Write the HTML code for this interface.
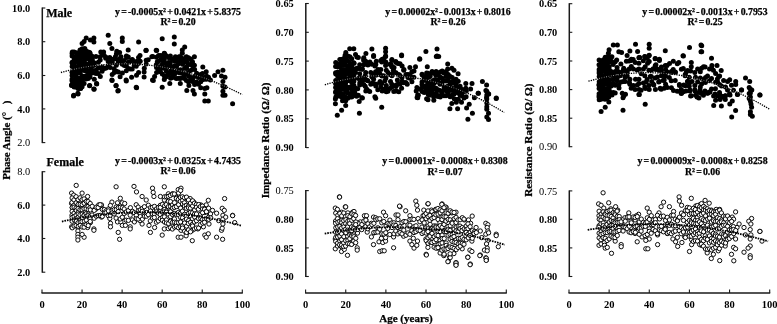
<!DOCTYPE html>
<html><head><meta charset="utf-8"><style>
html,body{margin:0;padding:0;background:#fff;width:777px;height:324px;overflow:hidden}
svg{display:block}
text{font-family:"Liberation Serif","Noto Serif CJK SC",serif;stroke:#000;stroke-width:0.25px}
</style></head><body>
<svg width="777" height="324" viewBox="0 0 777 324" font-family="Liberation Serif, serif" fill="#000"><line x1="42.3" y1="7.5" x2="42.3" y2="143.1" stroke="#1a1a1a" stroke-width="1.5"/>
<line x1="42.3" y1="8.0" x2="45.3" y2="8.0" stroke="#1a1a1a" stroke-width="1.1"/>
<text x="30.299999999999997" y="11.6" text-anchor="end" font-size="10.4" font-weight="bold" style="stroke:none">10.0</text>
<line x1="42.3" y1="41.7" x2="45.3" y2="41.7" stroke="#1a1a1a" stroke-width="1.1"/>
<text x="30.299999999999997" y="45.300000000000004" text-anchor="end" font-size="10.4" font-weight="bold" style="stroke:none">8.0</text>
<line x1="42.3" y1="75.5" x2="45.3" y2="75.5" stroke="#1a1a1a" stroke-width="1.1"/>
<text x="30.299999999999997" y="79.1" text-anchor="end" font-size="10.4" font-weight="bold" style="stroke:none">6.0</text>
<line x1="42.3" y1="108.9" x2="45.3" y2="108.9" stroke="#1a1a1a" stroke-width="1.1"/>
<text x="30.299999999999997" y="112.5" text-anchor="end" font-size="10.4" font-weight="bold" style="stroke:none">4.0</text>
<line x1="42.3" y1="142.6" x2="45.3" y2="142.6" stroke="#1a1a1a" stroke-width="1.1"/>
<text x="30.299999999999997" y="146.2" text-anchor="end" font-size="10.4" font-weight="normal" style="stroke:none">2.0</text>
<line x1="42.3" y1="171.2" x2="42.3" y2="272.7" stroke="#1a1a1a" stroke-width="1.5"/>
<line x1="42.3" y1="171.7" x2="45.3" y2="171.7" stroke="#1a1a1a" stroke-width="1.1"/>
<text x="30.299999999999997" y="175.29999999999998" text-anchor="end" font-size="10.4" font-weight="normal" style="stroke:none">8.0</text>
<line x1="42.3" y1="205.1" x2="45.3" y2="205.1" stroke="#1a1a1a" stroke-width="1.1"/>
<text x="30.299999999999997" y="208.7" text-anchor="end" font-size="10.4" font-weight="bold" style="stroke:none">6.0</text>
<line x1="42.3" y1="238.5" x2="45.3" y2="238.5" stroke="#1a1a1a" stroke-width="1.1"/>
<text x="30.299999999999997" y="242.1" text-anchor="end" font-size="10.4" font-weight="bold" style="stroke:none">4.0</text>
<line x1="42.3" y1="272.2" x2="45.3" y2="272.2" stroke="#1a1a1a" stroke-width="1.1"/>
<text x="30.299999999999997" y="275.8" text-anchor="end" font-size="10.4" font-weight="bold" style="stroke:none">2.0</text>
<line x1="305.8" y1="3.0" x2="305.8" y2="148.1" stroke="#1a1a1a" stroke-width="1.5"/>
<line x1="305.8" y1="3.5" x2="308.8" y2="3.5" stroke="#1a1a1a" stroke-width="1.1"/>
<text x="293.8" y="7.1" text-anchor="end" font-size="10.4" font-weight="bold" style="stroke:none">0.65</text>
<line x1="305.8" y1="32.3" x2="308.8" y2="32.3" stroke="#1a1a1a" stroke-width="1.1"/>
<text x="293.8" y="35.9" text-anchor="end" font-size="10.4" font-weight="bold" style="stroke:none">0.70</text>
<line x1="305.8" y1="61.1" x2="308.8" y2="61.1" stroke="#1a1a1a" stroke-width="1.1"/>
<text x="293.8" y="64.7" text-anchor="end" font-size="10.4" font-weight="bold" style="stroke:none">0.75</text>
<line x1="305.8" y1="89.9" x2="308.8" y2="89.9" stroke="#1a1a1a" stroke-width="1.1"/>
<text x="293.8" y="93.5" text-anchor="end" font-size="10.4" font-weight="bold" style="stroke:none">0.80</text>
<line x1="305.8" y1="118.8" x2="308.8" y2="118.8" stroke="#1a1a1a" stroke-width="1.1"/>
<text x="293.8" y="122.39999999999999" text-anchor="end" font-size="10.4" font-weight="bold" style="stroke:none">0.85</text>
<line x1="305.8" y1="147.6" x2="308.8" y2="147.6" stroke="#1a1a1a" stroke-width="1.1"/>
<text x="293.8" y="151.2" text-anchor="end" font-size="10.4" font-weight="bold" style="stroke:none">0.90</text>
<line x1="305.8" y1="190.1" x2="305.8" y2="277.0" stroke="#1a1a1a" stroke-width="1.5"/>
<line x1="305.8" y1="190.6" x2="308.8" y2="190.6" stroke="#1a1a1a" stroke-width="1.1"/>
<text x="293.8" y="194.2" text-anchor="end" font-size="10.4" font-weight="normal" style="stroke:none">0.75</text>
<line x1="305.8" y1="219.3" x2="308.8" y2="219.3" stroke="#1a1a1a" stroke-width="1.1"/>
<text x="293.8" y="222.9" text-anchor="end" font-size="10.4" font-weight="bold" style="stroke:none">0.80</text>
<line x1="305.8" y1="247.9" x2="308.8" y2="247.9" stroke="#1a1a1a" stroke-width="1.1"/>
<text x="293.8" y="251.5" text-anchor="end" font-size="10.4" font-weight="bold" style="stroke:none">0.85</text>
<line x1="305.8" y1="276.5" x2="308.8" y2="276.5" stroke="#1a1a1a" stroke-width="1.1"/>
<text x="293.8" y="280.1" text-anchor="end" font-size="10.4" font-weight="bold" style="stroke:none">0.90</text>
<line x1="569.3" y1="3.2" x2="569.3" y2="147.2" stroke="#1a1a1a" stroke-width="1.5"/>
<line x1="569.3" y1="3.7" x2="572.3" y2="3.7" stroke="#1a1a1a" stroke-width="1.1"/>
<text x="557.3" y="7.300000000000001" text-anchor="end" font-size="10.4" font-weight="bold" style="stroke:none">0.65</text>
<line x1="569.3" y1="32.3" x2="572.3" y2="32.3" stroke="#1a1a1a" stroke-width="1.1"/>
<text x="557.3" y="35.9" text-anchor="end" font-size="10.4" font-weight="bold" style="stroke:none">0.70</text>
<line x1="569.3" y1="61.0" x2="572.3" y2="61.0" stroke="#1a1a1a" stroke-width="1.1"/>
<text x="557.3" y="64.6" text-anchor="end" font-size="10.4" font-weight="bold" style="stroke:none">0.75</text>
<line x1="569.3" y1="89.6" x2="572.3" y2="89.6" stroke="#1a1a1a" stroke-width="1.1"/>
<text x="557.3" y="93.19999999999999" text-anchor="end" font-size="10.4" font-weight="bold" style="stroke:none">0.80</text>
<line x1="569.3" y1="118.2" x2="572.3" y2="118.2" stroke="#1a1a1a" stroke-width="1.1"/>
<text x="557.3" y="121.8" text-anchor="end" font-size="10.4" font-weight="bold" style="stroke:none">0.85</text>
<line x1="569.3" y1="146.7" x2="572.3" y2="146.7" stroke="#1a1a1a" stroke-width="1.1"/>
<text x="557.3" y="150.29999999999998" text-anchor="end" font-size="10.4" font-weight="normal" style="stroke:none">0.90</text>
<line x1="569.3" y1="190.4" x2="569.3" y2="277.0" stroke="#1a1a1a" stroke-width="1.5"/>
<line x1="569.3" y1="190.9" x2="572.3" y2="190.9" stroke="#1a1a1a" stroke-width="1.1"/>
<text x="557.3" y="194.5" text-anchor="end" font-size="10.4" font-weight="normal" style="stroke:none">0.75</text>
<line x1="569.3" y1="219.3" x2="572.3" y2="219.3" stroke="#1a1a1a" stroke-width="1.1"/>
<text x="557.3" y="222.9" text-anchor="end" font-size="10.4" font-weight="bold" style="stroke:none">0.80</text>
<line x1="569.3" y1="247.9" x2="572.3" y2="247.9" stroke="#1a1a1a" stroke-width="1.1"/>
<text x="557.3" y="251.5" text-anchor="end" font-size="10.4" font-weight="bold" style="stroke:none">0.85</text>
<line x1="569.3" y1="276.5" x2="572.3" y2="276.5" stroke="#1a1a1a" stroke-width="1.1"/>
<text x="557.3" y="280.1" text-anchor="end" font-size="10.4" font-weight="bold" style="stroke:none">0.90</text>
<line x1="41.5" y1="292.9" x2="242.8" y2="292.9" stroke="#1a1a1a" stroke-width="1.5"/>
<line x1="42.0" y1="292.9" x2="42.0" y2="289.4" stroke="#1a1a1a" stroke-width="1.1"/>
<text x="42.0" y="308.4" text-anchor="middle" font-size="10.5" font-weight="bold" style="stroke:none">0</text>
<line x1="82.06" y1="292.9" x2="82.06" y2="289.4" stroke="#1a1a1a" stroke-width="1.1"/>
<text x="82.06" y="308.4" text-anchor="middle" font-size="10.5" font-weight="bold" style="stroke:none">20</text>
<line x1="122.12" y1="292.9" x2="122.12" y2="289.4" stroke="#1a1a1a" stroke-width="1.1"/>
<text x="122.12" y="308.4" text-anchor="middle" font-size="10.5" font-weight="bold" style="stroke:none">40</text>
<line x1="162.18" y1="292.9" x2="162.18" y2="289.4" stroke="#1a1a1a" stroke-width="1.1"/>
<text x="162.18" y="308.4" text-anchor="middle" font-size="10.5" font-weight="bold" style="stroke:none">60</text>
<line x1="202.24" y1="292.9" x2="202.24" y2="289.4" stroke="#1a1a1a" stroke-width="1.1"/>
<text x="202.24" y="308.4" text-anchor="middle" font-size="10.5" font-weight="bold" style="stroke:none">80</text>
<line x1="242.3" y1="292.9" x2="242.3" y2="289.4" stroke="#1a1a1a" stroke-width="1.1"/>
<text x="242.3" y="308.4" text-anchor="middle" font-size="10.5" font-weight="bold" style="stroke:none">100</text>
<line x1="305.1" y1="292.9" x2="506.8" y2="292.9" stroke="#1a1a1a" stroke-width="1.5"/>
<line x1="305.6" y1="292.9" x2="305.6" y2="289.4" stroke="#1a1a1a" stroke-width="1.1"/>
<text x="305.6" y="308.4" text-anchor="middle" font-size="10.5" font-weight="bold" style="stroke:none">0</text>
<line x1="345.74" y1="292.9" x2="345.74" y2="289.4" stroke="#1a1a1a" stroke-width="1.1"/>
<text x="345.74" y="308.4" text-anchor="middle" font-size="10.5" font-weight="bold" style="stroke:none">20</text>
<line x1="385.88" y1="292.9" x2="385.88" y2="289.4" stroke="#1a1a1a" stroke-width="1.1"/>
<text x="385.88" y="308.4" text-anchor="middle" font-size="10.5" font-weight="bold" style="stroke:none">40</text>
<line x1="426.02" y1="292.9" x2="426.02" y2="289.4" stroke="#1a1a1a" stroke-width="1.1"/>
<text x="426.02" y="308.4" text-anchor="middle" font-size="10.5" font-weight="bold" style="stroke:none">60</text>
<line x1="466.16" y1="292.9" x2="466.16" y2="289.4" stroke="#1a1a1a" stroke-width="1.1"/>
<text x="466.16" y="308.4" text-anchor="middle" font-size="10.5" font-weight="bold" style="stroke:none">80</text>
<line x1="506.3" y1="292.9" x2="506.3" y2="289.4" stroke="#1a1a1a" stroke-width="1.1"/>
<text x="506.3" y="308.4" text-anchor="middle" font-size="10.5" font-weight="bold" style="stroke:none">100</text>
<line x1="568.5" y1="292.9" x2="770.2" y2="292.9" stroke="#1a1a1a" stroke-width="1.5"/>
<line x1="569.0" y1="292.9" x2="569.0" y2="289.4" stroke="#1a1a1a" stroke-width="1.1"/>
<text x="569.0" y="308.4" text-anchor="middle" font-size="10.5" font-weight="bold" style="stroke:none">0</text>
<line x1="609.14" y1="292.9" x2="609.14" y2="289.4" stroke="#1a1a1a" stroke-width="1.1"/>
<text x="609.14" y="308.4" text-anchor="middle" font-size="10.5" font-weight="bold" style="stroke:none">20</text>
<line x1="649.28" y1="292.9" x2="649.28" y2="289.4" stroke="#1a1a1a" stroke-width="1.1"/>
<text x="649.28" y="308.4" text-anchor="middle" font-size="10.5" font-weight="bold" style="stroke:none">40</text>
<line x1="689.4200000000001" y1="292.9" x2="689.4200000000001" y2="289.4" stroke="#1a1a1a" stroke-width="1.1"/>
<text x="689.4200000000001" y="308.4" text-anchor="middle" font-size="10.5" font-weight="bold" style="stroke:none">60</text>
<line x1="729.5600000000001" y1="292.9" x2="729.5600000000001" y2="289.4" stroke="#1a1a1a" stroke-width="1.1"/>
<text x="729.5600000000001" y="308.4" text-anchor="middle" font-size="10.5" font-weight="bold" style="stroke:none">80</text>
<line x1="769.7" y1="292.9" x2="769.7" y2="289.4" stroke="#1a1a1a" stroke-width="1.1"/>
<text x="769.7" y="308.4" text-anchor="middle" font-size="10.5" font-weight="bold" style="stroke:none">100</text>
<text x="406" y="322" text-anchor="middle" font-size="11" font-weight="bold">Age (years)</text>
<text x="46.2" y="16.7" font-size="12" font-weight="bold">Male</text>
<text x="46.5" y="165.7" font-size="12" font-weight="bold">Female</text>
<text x="178" y="14.7" text-anchor="middle" font-size="9.8" font-weight="bold" word-spacing="-1.2">y = -0.0005x² + 0.0421x + 5.8375</text>
<text x="178" y="24.9" text-anchor="middle" font-size="9.8" font-weight="bold" word-spacing="-1.2">R² = 0.20</text>
<text x="448" y="14.9" text-anchor="middle" font-size="9.8" font-weight="bold" word-spacing="-1.2">y = 0.00002x² - 0.0013x + 0.8016</text>
<text x="448" y="25.1" text-anchor="middle" font-size="9.8" font-weight="bold" word-spacing="-1.2">R² = 0.26</text>
<text x="705" y="14.9" text-anchor="middle" font-size="9.8" font-weight="bold" word-spacing="-1.2">y = 0.00002x² - 0.0013x + 0.7953</text>
<text x="705" y="25.1" text-anchor="middle" font-size="9.8" font-weight="bold" word-spacing="-1.2">R² = 0.25</text>
<text x="178" y="164.2" text-anchor="middle" font-size="9.8" font-weight="bold" word-spacing="-1.2">y = -0.0003x² + 0.0325x + 4.7435</text>
<text x="178" y="174.39999999999998" text-anchor="middle" font-size="9.8" font-weight="bold" word-spacing="-1.2">R² = 0.06</text>
<text x="445" y="164.4" text-anchor="middle" font-size="9.8" font-weight="bold" word-spacing="-1.2">y = 0.00001x² - 0.0008x + 0.8308</text>
<text x="445" y="174.6" text-anchor="middle" font-size="9.8" font-weight="bold" word-spacing="-1.2">R² = 0.07</text>
<text x="702.5" y="164.4" text-anchor="middle" font-size="9.8" font-weight="bold" word-spacing="-1.2">y = 0.000009x² - 0.0008x + 0.8258</text>
<text x="702.5" y="174.6" text-anchor="middle" font-size="9.8" font-weight="bold" word-spacing="-1.2">R² = 0.06</text>
<text transform="translate(9.6,179.8) rotate(-90)" font-size="11" font-weight="bold">Phase Angle (°<tspan dx="7.5">)</tspan></text>
<text transform="translate(269.0,140.4) rotate(-90)" text-anchor="middle" font-size="11.2" font-weight="bold">Impedance Ratio (Ω/ Ω)</text>
<text transform="translate(532.2,140.1) rotate(-90)" text-anchor="middle" font-size="11.2" font-weight="bold">Resistance Ratio (Ω/ Ω)</text>
<g fill="#000"><circle cx="72.1" cy="53.6" r="2.5"/><circle cx="72.1" cy="56.0" r="2.5"/><circle cx="72.1" cy="62.2" r="2.5"/><circle cx="72.2" cy="63.3" r="2.5"/><circle cx="72.2" cy="66.6" r="2.5"/><circle cx="72.0" cy="72.3" r="2.5"/><circle cx="72.1" cy="75.6" r="2.5"/><circle cx="72.1" cy="79.0" r="2.5"/><circle cx="72.0" cy="80.8" r="2.5"/><circle cx="72.1" cy="84.6" r="2.5"/><circle cx="74.1" cy="51.9" r="2.5"/><circle cx="74.0" cy="57.2" r="2.5"/><circle cx="74.2" cy="60.0" r="2.5"/><circle cx="74.0" cy="64.4" r="2.5"/><circle cx="74.1" cy="66.1" r="2.5"/><circle cx="74.1" cy="70.1" r="2.5"/><circle cx="74.2" cy="73.0" r="2.5"/><circle cx="74.2" cy="75.0" r="2.5"/><circle cx="74.3" cy="80.4" r="2.5"/><circle cx="74.0" cy="81.0" r="2.5"/><circle cx="74.2" cy="86.9" r="2.5"/><circle cx="76.1" cy="52.7" r="2.5"/><circle cx="76.1" cy="57.2" r="2.5"/><circle cx="76.0" cy="58.2" r="2.5"/><circle cx="76.2" cy="61.6" r="2.5"/><circle cx="76.2" cy="67.5" r="2.5"/><circle cx="76.2" cy="68.3" r="2.5"/><circle cx="76.3" cy="74.4" r="2.5"/><circle cx="76.3" cy="77.9" r="2.5"/><circle cx="76.1" cy="80.9" r="2.5"/><circle cx="76.0" cy="84.2" r="2.5"/><circle cx="76.1" cy="87.1" r="2.5"/><circle cx="78.1" cy="52.9" r="2.5"/><circle cx="78.1" cy="55.5" r="2.5"/><circle cx="78.3" cy="58.8" r="2.5"/><circle cx="78.2" cy="61.8" r="2.5"/><circle cx="78.1" cy="65.9" r="2.5"/><circle cx="78.3" cy="71.5" r="2.5"/><circle cx="78.1" cy="72.2" r="2.5"/><circle cx="78.0" cy="78.2" r="2.5"/><circle cx="78.0" cy="78.8" r="2.5"/><circle cx="78.0" cy="83.8" r="2.5"/><circle cx="78.0" cy="88.6" r="2.5"/><circle cx="80.0" cy="50.0" r="2.5"/><circle cx="80.2" cy="53.5" r="2.5"/><circle cx="80.1" cy="55.9" r="2.5"/><circle cx="80.1" cy="59.7" r="2.5"/><circle cx="80.1" cy="63.6" r="2.5"/><circle cx="80.1" cy="67.9" r="2.5"/><circle cx="80.2" cy="69.2" r="2.5"/><circle cx="80.2" cy="73.1" r="2.5"/><circle cx="80.1" cy="78.0" r="2.5"/><circle cx="80.1" cy="81.6" r="2.5"/><circle cx="80.0" cy="83.4" r="2.5"/><circle cx="80.1" cy="86.0" r="2.5"/><circle cx="82.2" cy="48.7" r="2.5"/><circle cx="82.0" cy="54.6" r="2.5"/><circle cx="82.2" cy="57.0" r="2.5"/><circle cx="82.1" cy="61.8" r="2.5"/><circle cx="82.2" cy="63.3" r="2.5"/><circle cx="82.0" cy="66.2" r="2.5"/><circle cx="82.0" cy="69.7" r="2.5"/><circle cx="82.2" cy="76.1" r="2.5"/><circle cx="82.1" cy="77.9" r="2.5"/><circle cx="82.1" cy="81.3" r="2.5"/><circle cx="82.1" cy="86.8" r="2.5"/><circle cx="84.3" cy="52.0" r="2.5"/><circle cx="84.3" cy="55.9" r="2.5"/><circle cx="84.3" cy="58.3" r="2.5"/><circle cx="84.0" cy="61.7" r="2.5"/><circle cx="84.1" cy="66.1" r="2.5"/><circle cx="84.3" cy="70.0" r="2.5"/><circle cx="84.2" cy="70.6" r="2.5"/><circle cx="84.2" cy="76.4" r="2.5"/><circle cx="84.1" cy="77.7" r="2.5"/><circle cx="84.1" cy="83.6" r="2.5"/><circle cx="86.1" cy="51.0" r="2.5"/><circle cx="86.2" cy="53.9" r="2.5"/><circle cx="86.2" cy="58.9" r="2.5"/><circle cx="86.1" cy="63.7" r="2.5"/><circle cx="86.1" cy="67.2" r="2.5"/><circle cx="86.2" cy="70.8" r="2.5"/><circle cx="86.3" cy="71.3" r="2.5"/><circle cx="86.0" cy="76.0" r="2.5"/><circle cx="86.1" cy="78.9" r="2.5"/><circle cx="88.2" cy="51.9" r="2.5"/><circle cx="88.2" cy="55.8" r="2.5"/><circle cx="88.1" cy="58.5" r="2.5"/><circle cx="88.0" cy="65.1" r="2.5"/><circle cx="88.1" cy="65.9" r="2.5"/><circle cx="88.2" cy="71.2" r="2.5"/><circle cx="88.0" cy="75.1" r="2.5"/><circle cx="88.2" cy="78.4" r="2.5"/><circle cx="90.1" cy="53.5" r="2.5"/><circle cx="90.0" cy="56.2" r="2.5"/><circle cx="90.3" cy="60.9" r="2.5"/><circle cx="90.1" cy="63.0" r="2.5"/><circle cx="90.3" cy="65.9" r="2.5"/><circle cx="90.3" cy="69.7" r="2.5"/><circle cx="90.2" cy="73.4" r="2.5"/><circle cx="90.0" cy="76.9" r="2.5"/><circle cx="92.1" cy="56.2" r="2.5"/><circle cx="92.3" cy="59.1" r="2.5"/><circle cx="92.2" cy="61.1" r="2.5"/><circle cx="92.2" cy="65.4" r="2.5"/><circle cx="92.3" cy="66.4" r="2.5"/><circle cx="92.2" cy="70.5" r="2.5"/><circle cx="92.2" cy="73.0" r="2.5"/><circle cx="94.1" cy="62.8" r="2.5"/><circle cx="94.2" cy="64.9" r="2.5"/><circle cx="94.3" cy="79.3" r="2.5"/><circle cx="96.0" cy="56.4" r="2.5"/><circle cx="96.1" cy="69.9" r="2.5"/><circle cx="96.0" cy="73.6" r="2.5"/><circle cx="98.3" cy="62.2" r="2.5"/><circle cx="98.2" cy="67.9" r="2.5"/><circle cx="98.2" cy="73.4" r="2.5"/><circle cx="100.2" cy="59.9" r="2.5"/><circle cx="100.1" cy="67.8" r="2.5"/><circle cx="100.3" cy="76.4" r="2.5"/><circle cx="102.3" cy="53.5" r="2.5"/><circle cx="102.2" cy="66.9" r="2.5"/><circle cx="102.1" cy="71.2" r="2.5"/><circle cx="104.2" cy="55.5" r="2.5"/><circle cx="104.4" cy="68.6" r="2.5"/><circle cx="106.4" cy="57.6" r="2.5"/><circle cx="106.1" cy="67.9" r="2.5"/><circle cx="108.2" cy="61.4" r="2.5"/><circle cx="108.2" cy="66.0" r="2.5"/><circle cx="110.3" cy="62.1" r="2.5"/><circle cx="110.2" cy="67.4" r="2.5"/><circle cx="112.4" cy="59.4" r="2.5"/><circle cx="112.3" cy="62.7" r="2.5"/><circle cx="112.2" cy="74.5" r="2.5"/><circle cx="114.2" cy="59.0" r="2.5"/><circle cx="114.1" cy="68.8" r="2.5"/><circle cx="114.3" cy="72.4" r="2.5"/><circle cx="116.4" cy="54.0" r="2.5"/><circle cx="116.3" cy="65.2" r="2.5"/><circle cx="116.4" cy="71.2" r="2.5"/><circle cx="118.3" cy="59.7" r="2.5"/><circle cx="118.3" cy="62.2" r="2.5"/><circle cx="118.4" cy="72.1" r="2.5"/><circle cx="120.2" cy="58.6" r="2.5"/><circle cx="120.1" cy="61.7" r="2.5"/><circle cx="120.1" cy="76.8" r="2.5"/><circle cx="122.3" cy="64.3" r="2.5"/><circle cx="122.4" cy="73.1" r="2.5"/><circle cx="124.2" cy="60.5" r="2.5"/><circle cx="124.4" cy="65.6" r="2.5"/><circle cx="126.4" cy="56.1" r="2.5"/><circle cx="126.4" cy="65.9" r="2.5"/><circle cx="126.3" cy="70.7" r="2.5"/><circle cx="128.3" cy="56.9" r="2.5"/><circle cx="128.4" cy="62.2" r="2.5"/><circle cx="128.3" cy="68.4" r="2.5"/><circle cx="130.4" cy="61.4" r="2.5"/><circle cx="130.2" cy="69.1" r="2.5"/><circle cx="132.3" cy="60.1" r="2.5"/><circle cx="132.2" cy="68.9" r="2.5"/><circle cx="134.4" cy="63.7" r="2.5"/><circle cx="134.2" cy="65.5" r="2.5"/><circle cx="136.4" cy="61.4" r="2.5"/><circle cx="136.2" cy="66.2" r="2.5"/><circle cx="138.5" cy="57.5" r="2.5"/><circle cx="138.4" cy="63.6" r="2.5"/><circle cx="140.2" cy="61.3" r="2.5"/><circle cx="156.4" cy="57.2" r="2.5"/><circle cx="156.3" cy="64.7" r="2.5"/><circle cx="156.5" cy="67.5" r="2.5"/><circle cx="158.5" cy="55.4" r="2.5"/><circle cx="158.3" cy="61.5" r="2.5"/><circle cx="158.3" cy="69.2" r="2.5"/><circle cx="158.5" cy="69.5" r="2.5"/><circle cx="160.5" cy="55.6" r="2.5"/><circle cx="160.5" cy="59.9" r="2.5"/><circle cx="160.5" cy="66.5" r="2.5"/><circle cx="160.4" cy="71.8" r="2.5"/><circle cx="162.6" cy="55.8" r="2.5"/><circle cx="162.4" cy="64.2" r="2.5"/><circle cx="162.5" cy="67.9" r="2.5"/><circle cx="162.3" cy="74.0" r="2.5"/><circle cx="164.5" cy="55.3" r="2.5"/><circle cx="164.4" cy="62.1" r="2.5"/><circle cx="164.4" cy="68.3" r="2.5"/><circle cx="164.4" cy="76.0" r="2.5"/><circle cx="166.4" cy="55.8" r="2.5"/><circle cx="166.4" cy="64.3" r="2.5"/><circle cx="166.4" cy="68.2" r="2.5"/><circle cx="166.4" cy="71.5" r="2.5"/><circle cx="166.3" cy="76.7" r="2.5"/><circle cx="168.5" cy="57.6" r="2.5"/><circle cx="168.5" cy="62.5" r="2.5"/><circle cx="168.6" cy="65.1" r="2.5"/><circle cx="168.5" cy="73.4" r="2.5"/><circle cx="168.4" cy="75.1" r="2.5"/><circle cx="170.4" cy="55.9" r="2.5"/><circle cx="170.3" cy="62.5" r="2.5"/><circle cx="170.6" cy="66.0" r="2.5"/><circle cx="170.6" cy="71.1" r="2.5"/><circle cx="170.6" cy="78.2" r="2.5"/><circle cx="172.4" cy="59.3" r="2.5"/><circle cx="172.4" cy="67.9" r="2.5"/><circle cx="172.5" cy="74.4" r="2.5"/><circle cx="172.5" cy="77.6" r="2.5"/><circle cx="174.5" cy="61.0" r="2.5"/><circle cx="174.6" cy="65.7" r="2.5"/><circle cx="174.5" cy="71.9" r="2.5"/><circle cx="174.5" cy="74.6" r="2.5"/><circle cx="176.5" cy="60.6" r="2.5"/><circle cx="176.6" cy="61.4" r="2.5"/><circle cx="176.6" cy="66.5" r="2.5"/><circle cx="176.5" cy="71.8" r="2.5"/><circle cx="176.3" cy="78.4" r="2.5"/><circle cx="178.6" cy="57.0" r="2.5"/><circle cx="178.4" cy="63.7" r="2.5"/><circle cx="178.5" cy="70.4" r="2.5"/><circle cx="178.5" cy="72.5" r="2.5"/><circle cx="178.6" cy="78.2" r="2.5"/><circle cx="180.4" cy="57.0" r="2.5"/><circle cx="180.4" cy="60.8" r="2.5"/><circle cx="180.5" cy="69.7" r="2.5"/><circle cx="180.5" cy="73.1" r="2.5"/><circle cx="180.3" cy="78.4" r="2.5"/><circle cx="182.4" cy="58.6" r="2.5"/><circle cx="182.5" cy="64.3" r="2.5"/><circle cx="182.5" cy="72.5" r="2.5"/><circle cx="182.5" cy="77.5" r="2.5"/><circle cx="184.5" cy="61.5" r="2.5"/><circle cx="184.5" cy="61.8" r="2.5"/><circle cx="184.6" cy="68.3" r="2.5"/><circle cx="184.4" cy="74.8" r="2.5"/><circle cx="184.5" cy="78.6" r="2.5"/><circle cx="186.4" cy="56.8" r="2.5"/><circle cx="186.5" cy="66.6" r="2.5"/><circle cx="186.6" cy="68.4" r="2.5"/><circle cx="186.5" cy="73.7" r="2.5"/><circle cx="186.4" cy="80.6" r="2.5"/><circle cx="188.5" cy="57.8" r="2.5"/><circle cx="188.4" cy="64.5" r="2.5"/><circle cx="188.6" cy="72.4" r="2.5"/><circle cx="188.5" cy="75.9" r="2.5"/><circle cx="188.4" cy="81.7" r="2.5"/><circle cx="190.7" cy="59.1" r="2.5"/><circle cx="190.6" cy="64.6" r="2.5"/><circle cx="190.6" cy="70.5" r="2.5"/><circle cx="190.4" cy="77.3" r="2.5"/><circle cx="190.6" cy="80.3" r="2.5"/><circle cx="192.4" cy="61.7" r="2.5"/><circle cx="192.6" cy="65.4" r="2.5"/><circle cx="192.5" cy="69.3" r="2.5"/><circle cx="192.5" cy="79.4" r="2.5"/><circle cx="192.4" cy="81.4" r="2.5"/><circle cx="194.4" cy="65.3" r="2.5"/><circle cx="194.6" cy="69.5" r="2.5"/><circle cx="194.5" cy="76.6" r="2.5"/><circle cx="194.6" cy="84.4" r="2.5"/><circle cx="196.6" cy="73.2" r="2.5"/><circle cx="196.4" cy="75.8" r="2.5"/><circle cx="196.5" cy="82.1" r="2.5"/><circle cx="198.4" cy="77.4" r="2.5"/><circle cx="198.5" cy="84.3" r="2.5"/><circle cx="200.5" cy="74.6" r="2.5"/><circle cx="200.6" cy="77.1" r="2.5"/><circle cx="200.7" cy="81.7" r="2.5"/><circle cx="202.5" cy="73.5" r="2.5"/><circle cx="202.5" cy="79.7" r="2.5"/><circle cx="204.4" cy="77.5" r="2.5"/><circle cx="204.6" cy="79.1" r="2.5"/><circle cx="206.6" cy="76.2" r="2.5"/><circle cx="206.4" cy="79.2" r="2.5"/><circle cx="208.5" cy="77.2" r="2.5"/><circle cx="108.2" cy="35.3" r="2.5"/><circle cx="86.2" cy="38.1" r="2.5"/><circle cx="93.9" cy="38.1" r="2.5"/><circle cx="93.9" cy="41.9" r="2.5"/><circle cx="90.4" cy="40.1" r="2.5"/><circle cx="82.1" cy="43.6" r="2.5"/><circle cx="84.1" cy="41.5" r="2.5"/><circle cx="122.3" cy="38.1" r="2.5"/><circle cx="122.3" cy="41.5" r="2.5"/><circle cx="109.8" cy="43.6" r="2.5"/><circle cx="111.9" cy="48.5" r="2.5"/><circle cx="116.8" cy="51.3" r="2.5"/><circle cx="119.6" cy="52.6" r="2.5"/><circle cx="100.8" cy="51.9" r="2.5"/><circle cx="103.6" cy="51.9" r="2.5"/><circle cx="84.8" cy="48.5" r="2.5"/><circle cx="84.1" cy="50.6" r="2.5"/><circle cx="72.3" cy="51.9" r="2.5"/><circle cx="89.7" cy="52.6" r="2.5"/><circle cx="100.1" cy="56.8" r="2.5"/><circle cx="105.7" cy="58.2" r="2.5"/><circle cx="109.8" cy="57.5" r="2.5"/><circle cx="115.4" cy="56.8" r="2.5"/><circle cx="121.0" cy="56.8" r="2.5"/><circle cx="138.6" cy="41.9" r="2.5"/><circle cx="162.2" cy="38.8" r="2.5"/><circle cx="174.3" cy="36.9" r="2.5"/><circle cx="174.3" cy="43.9" r="2.5"/><circle cx="128.2" cy="49.9" r="2.5"/><circle cx="146.2" cy="50.3" r="2.5"/><circle cx="156.2" cy="50.3" r="2.5"/><circle cx="182.3" cy="49.9" r="2.5"/><circle cx="140.0" cy="55.4" r="2.5"/><circle cx="151.8" cy="56.8" r="2.5"/><circle cx="164.3" cy="53.3" r="2.5"/><circle cx="126.8" cy="57.5" r="2.5"/><circle cx="132.3" cy="59.6" r="2.5"/><circle cx="137.9" cy="61.7" r="2.5"/><circle cx="146.2" cy="60.3" r="2.5"/><circle cx="157.3" cy="61.7" r="2.5"/><circle cx="164.3" cy="58.9" r="2.5"/><circle cx="169.8" cy="57.5" r="2.5"/><circle cx="175.4" cy="56.8" r="2.5"/><circle cx="179.6" cy="56.8" r="2.5"/><circle cx="182.3" cy="53.3" r="2.5"/><circle cx="184.7" cy="47.1" r="2.5"/><circle cx="194.4" cy="56.8" r="2.5"/><circle cx="190.9" cy="59.6" r="2.5"/><circle cx="186.1" cy="57.5" r="2.5"/><circle cx="186.8" cy="61.7" r="2.5"/><circle cx="192.3" cy="62.4" r="2.5"/><circle cx="73.7" cy="95.3" r="2.5"/><circle cx="77.9" cy="93.2" r="2.5"/><circle cx="80.7" cy="88.4" r="2.5"/><circle cx="71.6" cy="85.6" r="2.5"/><circle cx="76.5" cy="86.3" r="2.5"/><circle cx="89.7" cy="85.6" r="2.5"/><circle cx="93.9" cy="89.1" r="2.5"/><circle cx="96.6" cy="83.5" r="2.5"/><circle cx="111.9" cy="80.1" r="2.5"/><circle cx="116.1" cy="85.6" r="2.5"/><circle cx="118.2" cy="90.5" r="2.5"/><circle cx="126.1" cy="80.1" r="2.5"/><circle cx="131.6" cy="77.3" r="2.5"/><circle cx="136.5" cy="75.2" r="2.5"/><circle cx="138.6" cy="72.4" r="2.5"/><circle cx="144.1" cy="72.0" r="2.5"/><circle cx="144.1" cy="77.0" r="2.5"/><circle cx="146.2" cy="64.1" r="2.5"/><circle cx="136.2" cy="87.3" r="2.5"/><circle cx="162.2" cy="87.3" r="2.5"/><circle cx="152.5" cy="80.1" r="2.5"/><circle cx="154.6" cy="76.6" r="2.5"/><circle cx="156.6" cy="72.4" r="2.5"/><circle cx="180.3" cy="83.5" r="2.5"/><circle cx="169.8" cy="83.5" r="2.5"/><circle cx="164.3" cy="79.4" r="2.5"/><circle cx="202.8" cy="66.9" r="2.5"/><circle cx="206.2" cy="71.7" r="2.5"/><circle cx="210.4" cy="80.1" r="2.5"/><circle cx="214.6" cy="75.5" r="2.5"/><circle cx="218.0" cy="71.7" r="2.5"/><circle cx="222.9" cy="70.3" r="2.5"/><circle cx="221.5" cy="75.9" r="2.5"/><circle cx="225.0" cy="77.3" r="2.5"/><circle cx="222.9" cy="81.4" r="2.5"/><circle cx="222.9" cy="86.3" r="2.5"/><circle cx="225.0" cy="87.0" r="2.5"/><circle cx="222.9" cy="91.2" r="2.5"/><circle cx="222.9" cy="95.3" r="2.5"/><circle cx="225.0" cy="95.3" r="2.5"/><circle cx="232.6" cy="103.7" r="2.5"/><circle cx="204.8" cy="100.9" r="2.5"/><circle cx="208.3" cy="100.9" r="2.5"/><circle cx="204.8" cy="93.9" r="2.5"/><circle cx="204.8" cy="88.4" r="2.5"/><circle cx="206.9" cy="87.7" r="2.5"/><circle cx="200.7" cy="87.7" r="2.5"/><circle cx="194.4" cy="93.9" r="2.5"/><circle cx="193.0" cy="90.5" r="2.5"/><circle cx="186.8" cy="90.5" r="2.5"/><circle cx="188.9" cy="85.6" r="2.5"/><circle cx="73.5" cy="96.1" r="2.5"/><circle cx="78.0" cy="93.9" r="2.5"/><circle cx="80.0" cy="88.4" r="2.5"/><circle cx="71.6" cy="85.1" r="2.5"/><circle cx="89.6" cy="85.8" r="2.5"/><circle cx="94.1" cy="89.3" r="2.5"/><circle cx="96.7" cy="83.9" r="2.5"/><circle cx="112.1" cy="80.6" r="2.5"/><circle cx="116.0" cy="85.8" r="2.5"/><circle cx="117.9" cy="90.9" r="2.5"/><circle cx="126.3" cy="81.0" r="2.5"/><circle cx="136.6" cy="87.7" r="2.5"/><circle cx="153.3" cy="80.6" r="2.5"/><circle cx="145.9" cy="50.4" r="2.5"/><circle cx="156.7" cy="50.4" r="2.5"/><circle cx="152.8" cy="56.6" r="2.5"/><circle cx="148.2" cy="59.7" r="2.5"/><circle cx="164.4" cy="53.5" r="2.5"/><circle cx="144.3" cy="68.2" r="2.5"/></g>
<g fill="#000"><circle cx="357.7" cy="68.6" r="2.5"/><circle cx="357.7" cy="88.8" r="2.5"/><circle cx="359.7" cy="68.5" r="2.5"/><circle cx="359.7" cy="78.1" r="2.5"/><circle cx="359.8" cy="82.8" r="2.5"/><circle cx="361.9" cy="69.2" r="2.5"/><circle cx="361.8" cy="78.0" r="2.5"/><circle cx="363.7" cy="60.4" r="2.5"/><circle cx="363.7" cy="79.4" r="2.5"/><circle cx="363.7" cy="84.5" r="2.5"/><circle cx="365.7" cy="61.3" r="2.5"/><circle cx="365.7" cy="72.4" r="2.5"/><circle cx="365.8" cy="91.1" r="2.5"/><circle cx="367.9" cy="65.0" r="2.5"/><circle cx="367.9" cy="80.8" r="2.5"/><circle cx="367.9" cy="90.5" r="2.5"/><circle cx="369.9" cy="62.1" r="2.5"/><circle cx="369.7" cy="91.5" r="2.5"/><circle cx="371.8" cy="64.2" r="2.5"/><circle cx="371.8" cy="76.7" r="2.5"/><circle cx="371.9" cy="83.2" r="2.5"/><circle cx="373.7" cy="74.2" r="2.5"/><circle cx="373.8" cy="83.5" r="2.5"/><circle cx="375.8" cy="64.4" r="2.5"/><circle cx="375.8" cy="75.3" r="2.5"/><circle cx="375.8" cy="86.0" r="2.5"/><circle cx="378.0" cy="69.4" r="2.5"/><circle cx="378.0" cy="71.8" r="2.5"/><circle cx="377.8" cy="89.8" r="2.5"/><circle cx="379.9" cy="73.7" r="2.5"/><circle cx="379.9" cy="82.5" r="2.5"/><circle cx="381.8" cy="62.1" r="2.5"/><circle cx="381.9" cy="75.9" r="2.5"/><circle cx="381.8" cy="83.4" r="2.5"/><circle cx="383.8" cy="58.7" r="2.5"/><circle cx="384.0" cy="89.2" r="2.5"/><circle cx="385.8" cy="62.1" r="2.5"/><circle cx="385.9" cy="78.0" r="2.5"/><circle cx="385.9" cy="88.2" r="2.5"/><circle cx="388.0" cy="72.4" r="2.5"/><circle cx="387.9" cy="91.3" r="2.5"/><circle cx="389.9" cy="64.3" r="2.5"/><circle cx="389.9" cy="74.6" r="2.5"/><circle cx="389.9" cy="88.4" r="2.5"/><circle cx="391.8" cy="66.8" r="2.5"/><circle cx="391.8" cy="74.5" r="2.5"/><circle cx="391.8" cy="84.2" r="2.5"/><circle cx="394.0" cy="67.6" r="2.5"/><circle cx="393.9" cy="71.5" r="2.5"/><circle cx="393.8" cy="91.6" r="2.5"/><circle cx="395.8" cy="61.4" r="2.5"/><circle cx="396.0" cy="72.8" r="2.5"/><circle cx="396.0" cy="86.4" r="2.5"/><circle cx="398.0" cy="63.6" r="2.5"/><circle cx="397.9" cy="84.3" r="2.5"/><circle cx="400.0" cy="63.7" r="2.5"/><circle cx="400.0" cy="75.6" r="2.5"/><circle cx="400.1" cy="84.0" r="2.5"/><circle cx="402.1" cy="65.9" r="2.5"/><circle cx="402.0" cy="77.4" r="2.5"/><circle cx="401.9" cy="81.6" r="2.5"/><circle cx="403.9" cy="69.5" r="2.5"/><circle cx="403.8" cy="82.8" r="2.5"/><circle cx="405.9" cy="74.5" r="2.5"/><circle cx="405.9" cy="82.5" r="2.5"/><circle cx="408.1" cy="75.0" r="2.5"/><circle cx="407.9" cy="77.4" r="2.5"/><circle cx="410.1" cy="74.8" r="2.5"/><circle cx="410.0" cy="78.2" r="2.5"/><circle cx="411.9" cy="71.8" r="2.5"/><circle cx="411.9" cy="81.7" r="2.5"/><circle cx="414.0" cy="70.9" r="2.5"/><circle cx="413.9" cy="77.2" r="2.5"/><circle cx="335.7" cy="62.6" r="2.5"/><circle cx="335.6" cy="66.4" r="2.5"/><circle cx="335.6" cy="72.7" r="2.5"/><circle cx="335.8" cy="74.0" r="2.5"/><circle cx="335.7" cy="80.4" r="2.5"/><circle cx="335.6" cy="83.8" r="2.5"/><circle cx="335.6" cy="87.6" r="2.5"/><circle cx="335.8" cy="91.4" r="2.5"/><circle cx="335.6" cy="92.5" r="2.5"/><circle cx="335.8" cy="97.0" r="2.5"/><circle cx="337.7" cy="64.1" r="2.5"/><circle cx="337.7" cy="66.7" r="2.5"/><circle cx="337.8" cy="72.1" r="2.5"/><circle cx="337.6" cy="74.1" r="2.5"/><circle cx="337.8" cy="76.5" r="2.5"/><circle cx="337.8" cy="83.0" r="2.5"/><circle cx="337.6" cy="87.2" r="2.5"/><circle cx="337.8" cy="91.6" r="2.5"/><circle cx="337.7" cy="95.3" r="2.5"/><circle cx="337.7" cy="96.1" r="2.5"/><circle cx="339.8" cy="59.6" r="2.5"/><circle cx="339.6" cy="64.2" r="2.5"/><circle cx="339.6" cy="66.6" r="2.5"/><circle cx="339.6" cy="72.8" r="2.5"/><circle cx="339.8" cy="75.3" r="2.5"/><circle cx="339.6" cy="79.3" r="2.5"/><circle cx="339.7" cy="81.9" r="2.5"/><circle cx="339.8" cy="86.6" r="2.5"/><circle cx="339.7" cy="89.2" r="2.5"/><circle cx="339.8" cy="93.3" r="2.5"/><circle cx="339.6" cy="96.1" r="2.5"/><circle cx="341.8" cy="59.4" r="2.5"/><circle cx="341.8" cy="61.7" r="2.5"/><circle cx="341.8" cy="65.5" r="2.5"/><circle cx="341.6" cy="69.6" r="2.5"/><circle cx="341.8" cy="73.3" r="2.5"/><circle cx="341.6" cy="77.0" r="2.5"/><circle cx="341.6" cy="79.9" r="2.5"/><circle cx="341.7" cy="84.2" r="2.5"/><circle cx="341.8" cy="87.4" r="2.5"/><circle cx="341.8" cy="89.0" r="2.5"/><circle cx="341.7" cy="93.6" r="2.5"/><circle cx="341.7" cy="97.0" r="2.5"/><circle cx="343.7" cy="58.5" r="2.5"/><circle cx="343.6" cy="62.3" r="2.5"/><circle cx="343.7" cy="63.6" r="2.5"/><circle cx="343.9" cy="69.5" r="2.5"/><circle cx="343.7" cy="72.4" r="2.5"/><circle cx="343.8" cy="76.5" r="2.5"/><circle cx="343.6" cy="80.1" r="2.5"/><circle cx="343.8" cy="82.9" r="2.5"/><circle cx="343.7" cy="87.9" r="2.5"/><circle cx="343.9" cy="89.0" r="2.5"/><circle cx="343.6" cy="95.4" r="2.5"/><circle cx="343.8" cy="98.4" r="2.5"/><circle cx="345.6" cy="57.7" r="2.5"/><circle cx="345.6" cy="60.3" r="2.5"/><circle cx="345.7" cy="65.3" r="2.5"/><circle cx="345.8" cy="70.0" r="2.5"/><circle cx="345.8" cy="74.3" r="2.5"/><circle cx="345.8" cy="78.4" r="2.5"/><circle cx="345.8" cy="82.2" r="2.5"/><circle cx="345.7" cy="85.8" r="2.5"/><circle cx="345.9" cy="90.8" r="2.5"/><circle cx="345.7" cy="91.9" r="2.5"/><circle cx="345.6" cy="97.3" r="2.5"/><circle cx="347.8" cy="56.0" r="2.5"/><circle cx="347.8" cy="61.0" r="2.5"/><circle cx="347.7" cy="66.6" r="2.5"/><circle cx="347.9" cy="69.9" r="2.5"/><circle cx="347.9" cy="72.0" r="2.5"/><circle cx="347.7" cy="79.3" r="2.5"/><circle cx="347.6" cy="80.7" r="2.5"/><circle cx="347.7" cy="87.3" r="2.5"/><circle cx="347.8" cy="88.7" r="2.5"/><circle cx="347.8" cy="92.9" r="2.5"/><circle cx="347.7" cy="98.3" r="2.5"/><circle cx="349.9" cy="56.8" r="2.5"/><circle cx="349.7" cy="62.7" r="2.5"/><circle cx="349.7" cy="65.2" r="2.5"/><circle cx="349.8" cy="68.0" r="2.5"/><circle cx="349.8" cy="72.3" r="2.5"/><circle cx="349.9" cy="75.7" r="2.5"/><circle cx="349.7" cy="80.4" r="2.5"/><circle cx="349.6" cy="87.2" r="2.5"/><circle cx="349.6" cy="87.7" r="2.5"/><circle cx="349.9" cy="93.9" r="2.5"/><circle cx="349.7" cy="96.9" r="2.5"/><circle cx="351.7" cy="58.7" r="2.5"/><circle cx="351.8" cy="64.9" r="2.5"/><circle cx="351.7" cy="66.8" r="2.5"/><circle cx="351.7" cy="71.6" r="2.5"/><circle cx="351.9" cy="73.5" r="2.5"/><circle cx="351.6" cy="77.4" r="2.5"/><circle cx="351.8" cy="82.7" r="2.5"/><circle cx="351.9" cy="86.9" r="2.5"/><circle cx="351.9" cy="89.2" r="2.5"/><circle cx="351.9" cy="92.9" r="2.5"/><circle cx="351.6" cy="97.0" r="2.5"/><circle cx="353.7" cy="62.8" r="2.5"/><circle cx="353.9" cy="69.0" r="2.5"/><circle cx="353.9" cy="71.1" r="2.5"/><circle cx="353.9" cy="74.9" r="2.5"/><circle cx="353.7" cy="79.6" r="2.5"/><circle cx="353.8" cy="81.4" r="2.5"/><circle cx="353.9" cy="85.4" r="2.5"/><circle cx="353.8" cy="90.1" r="2.5"/><circle cx="353.9" cy="95.4" r="2.5"/><circle cx="422.0" cy="74.2" r="2.5"/><circle cx="422.0" cy="82.0" r="2.5"/><circle cx="422.0" cy="84.6" r="2.5"/><circle cx="422.0" cy="91.6" r="2.5"/><circle cx="424.2" cy="77.3" r="2.5"/><circle cx="424.2" cy="78.9" r="2.5"/><circle cx="423.9" cy="86.8" r="2.5"/><circle cx="424.1" cy="92.6" r="2.5"/><circle cx="426.0" cy="76.7" r="2.5"/><circle cx="426.1" cy="80.5" r="2.5"/><circle cx="426.0" cy="85.9" r="2.5"/><circle cx="426.2" cy="89.2" r="2.5"/><circle cx="428.1" cy="73.3" r="2.5"/><circle cx="428.0" cy="82.0" r="2.5"/><circle cx="428.0" cy="85.8" r="2.5"/><circle cx="428.2" cy="94.3" r="2.5"/><circle cx="430.0" cy="74.9" r="2.5"/><circle cx="430.1" cy="76.6" r="2.5"/><circle cx="429.9" cy="84.0" r="2.5"/><circle cx="430.1" cy="88.3" r="2.5"/><circle cx="429.9" cy="90.2" r="2.5"/><circle cx="432.1" cy="71.6" r="2.5"/><circle cx="431.9" cy="81.6" r="2.5"/><circle cx="431.9" cy="86.1" r="2.5"/><circle cx="432.1" cy="92.7" r="2.5"/><circle cx="434.0" cy="72.9" r="2.5"/><circle cx="434.1" cy="80.1" r="2.5"/><circle cx="434.0" cy="83.6" r="2.5"/><circle cx="434.1" cy="89.3" r="2.5"/><circle cx="434.0" cy="95.2" r="2.5"/><circle cx="436.1" cy="71.4" r="2.5"/><circle cx="435.9" cy="75.4" r="2.5"/><circle cx="436.1" cy="81.0" r="2.5"/><circle cx="436.0" cy="88.2" r="2.5"/><circle cx="436.1" cy="95.7" r="2.5"/><circle cx="438.1" cy="74.2" r="2.5"/><circle cx="437.9" cy="79.9" r="2.5"/><circle cx="438.0" cy="81.9" r="2.5"/><circle cx="438.0" cy="89.8" r="2.5"/><circle cx="438.0" cy="96.4" r="2.5"/><circle cx="440.2" cy="71.9" r="2.5"/><circle cx="440.0" cy="77.1" r="2.5"/><circle cx="440.1" cy="84.3" r="2.5"/><circle cx="440.0" cy="90.5" r="2.5"/><circle cx="440.2" cy="95.6" r="2.5"/><circle cx="442.1" cy="72.0" r="2.5"/><circle cx="441.9" cy="78.0" r="2.5"/><circle cx="442.2" cy="82.2" r="2.5"/><circle cx="442.0" cy="91.6" r="2.5"/><circle cx="442.0" cy="94.8" r="2.5"/><circle cx="444.1" cy="73.0" r="2.5"/><circle cx="444.0" cy="80.4" r="2.5"/><circle cx="444.1" cy="87.0" r="2.5"/><circle cx="444.1" cy="89.7" r="2.5"/><circle cx="444.0" cy="95.8" r="2.5"/><circle cx="446.1" cy="71.6" r="2.5"/><circle cx="446.0" cy="76.6" r="2.5"/><circle cx="446.0" cy="81.1" r="2.5"/><circle cx="446.1" cy="87.8" r="2.5"/><circle cx="446.2" cy="90.7" r="2.5"/><circle cx="446.0" cy="95.7" r="2.5"/><circle cx="448.2" cy="74.4" r="2.5"/><circle cx="448.1" cy="80.0" r="2.5"/><circle cx="448.1" cy="86.0" r="2.5"/><circle cx="448.1" cy="92.4" r="2.5"/><circle cx="448.0" cy="94.1" r="2.5"/><circle cx="450.2" cy="76.5" r="2.5"/><circle cx="450.1" cy="82.4" r="2.5"/><circle cx="450.2" cy="85.0" r="2.5"/><circle cx="450.1" cy="89.7" r="2.5"/><circle cx="450.1" cy="96.7" r="2.5"/><circle cx="452.2" cy="77.4" r="2.5"/><circle cx="452.2" cy="81.8" r="2.5"/><circle cx="452.1" cy="88.4" r="2.5"/><circle cx="452.0" cy="90.5" r="2.5"/><circle cx="452.1" cy="95.3" r="2.5"/><circle cx="454.2" cy="81.1" r="2.5"/><circle cx="454.1" cy="83.2" r="2.5"/><circle cx="454.1" cy="88.5" r="2.5"/><circle cx="454.1" cy="93.9" r="2.5"/><circle cx="454.2" cy="98.8" r="2.5"/><circle cx="456.2" cy="82.7" r="2.5"/><circle cx="456.1" cy="84.9" r="2.5"/><circle cx="456.1" cy="91.8" r="2.5"/><circle cx="456.3" cy="99.4" r="2.5"/><circle cx="458.2" cy="81.3" r="2.5"/><circle cx="458.2" cy="87.8" r="2.5"/><circle cx="458.1" cy="93.1" r="2.5"/><circle cx="458.3" cy="99.3" r="2.5"/><circle cx="460.1" cy="86.2" r="2.5"/><circle cx="460.0" cy="89.7" r="2.5"/><circle cx="460.1" cy="95.3" r="2.5"/><circle cx="462.3" cy="89.4" r="2.5"/><circle cx="462.3" cy="92.0" r="2.5"/><circle cx="462.2" cy="95.8" r="2.5"/><circle cx="464.2" cy="91.6" r="2.5"/><circle cx="464.0" cy="98.1" r="2.5"/><circle cx="466.3" cy="91.0" r="2.5"/><circle cx="466.1" cy="96.7" r="2.5"/><circle cx="349.7" cy="48.8" r="2.5"/><circle cx="353.8" cy="48.8" r="2.5"/><circle cx="345.8" cy="52.5" r="2.5"/><circle cx="345.1" cy="55.3" r="2.5"/><circle cx="355.5" cy="54.6" r="2.5"/><circle cx="358.3" cy="57.4" r="2.5"/><circle cx="365.9" cy="53.6" r="2.5"/><circle cx="371.9" cy="49.0" r="2.5"/><circle cx="373.6" cy="55.6" r="2.5"/><circle cx="363.8" cy="58.8" r="2.5"/><circle cx="341.6" cy="59.4" r="2.5"/><circle cx="385.6" cy="48.3" r="2.5"/><circle cx="385.6" cy="51.8" r="2.5"/><circle cx="385.6" cy="56.0" r="2.5"/><circle cx="382.2" cy="59.2" r="2.5"/><circle cx="391.9" cy="59.4" r="2.5"/><circle cx="401.6" cy="55.0" r="2.5"/><circle cx="425.9" cy="51.4" r="2.5"/><circle cx="419.7" cy="58.8" r="2.5"/><circle cx="437.0" cy="49.0" r="2.5"/><circle cx="437.0" cy="56.0" r="2.5"/><circle cx="356.9" cy="57.1" r="2.5"/><circle cx="363.8" cy="57.8" r="2.5"/><circle cx="373.6" cy="56.4" r="2.5"/><circle cx="376.3" cy="61.3" r="2.5"/><circle cx="354.1" cy="63.3" r="2.5"/><circle cx="359.7" cy="64.7" r="2.5"/><circle cx="363.8" cy="64.7" r="2.5"/><circle cx="367.3" cy="64.0" r="2.5"/><circle cx="374.9" cy="66.1" r="2.5"/><circle cx="356.9" cy="68.2" r="2.5"/><circle cx="362.4" cy="68.9" r="2.5"/><circle cx="370.8" cy="72.4" r="2.5"/><circle cx="375.6" cy="71.7" r="2.5"/><circle cx="359.7" cy="73.8" r="2.5"/><circle cx="355.5" cy="72.4" r="2.5"/><circle cx="365.2" cy="75.8" r="2.5"/><circle cx="358.3" cy="78.6" r="2.5"/><circle cx="362.4" cy="80.7" r="2.5"/><circle cx="366.6" cy="80.0" r="2.5"/><circle cx="373.6" cy="79.3" r="2.5"/><circle cx="376.3" cy="84.2" r="2.5"/><circle cx="370.8" cy="84.2" r="2.5"/><circle cx="365.2" cy="86.2" r="2.5"/><circle cx="359.7" cy="84.9" r="2.5"/><circle cx="366.6" cy="89.0" r="2.5"/><circle cx="355.5" cy="88.3" r="2.5"/><circle cx="354.8" cy="92.5" r="2.5"/><circle cx="358.3" cy="95.3" r="2.5"/><circle cx="362.4" cy="98.0" r="2.5"/><circle cx="374.9" cy="96.7" r="2.5"/><circle cx="385.6" cy="56.4" r="2.5"/><circle cx="380.8" cy="60.6" r="2.5"/><circle cx="391.9" cy="60.6" r="2.5"/><circle cx="396.1" cy="62.6" r="2.5"/><circle cx="385.6" cy="65.4" r="2.5"/><circle cx="391.2" cy="64.7" r="2.5"/><circle cx="401.6" cy="55.7" r="2.5"/><circle cx="380.8" cy="69.6" r="2.5"/><circle cx="386.3" cy="70.3" r="2.5"/><circle cx="393.3" cy="70.3" r="2.5"/><circle cx="403.7" cy="70.3" r="2.5"/><circle cx="398.8" cy="74.4" r="2.5"/><circle cx="391.9" cy="75.8" r="2.5"/><circle cx="383.6" cy="75.8" r="2.5"/><circle cx="379.4" cy="74.4" r="2.5"/><circle cx="407.9" cy="74.4" r="2.5"/><circle cx="411.3" cy="77.2" r="2.5"/><circle cx="409.9" cy="67.5" r="2.5"/><circle cx="415.5" cy="66.8" r="2.5"/><circle cx="419.7" cy="59.2" r="2.5"/><circle cx="427.3" cy="66.8" r="2.5"/><circle cx="380.1" cy="81.4" r="2.5"/><circle cx="384.9" cy="80.7" r="2.5"/><circle cx="390.5" cy="81.4" r="2.5"/><circle cx="397.4" cy="80.0" r="2.5"/><circle cx="402.3" cy="81.4" r="2.5"/><circle cx="380.8" cy="87.0" r="2.5"/><circle cx="386.3" cy="85.6" r="2.5"/><circle cx="391.9" cy="87.0" r="2.5"/><circle cx="396.1" cy="84.9" r="2.5"/><circle cx="407.2" cy="84.2" r="2.5"/><circle cx="401.6" cy="88.3" r="2.5"/><circle cx="382.2" cy="91.1" r="2.5"/><circle cx="386.3" cy="91.8" r="2.5"/><circle cx="396.1" cy="91.1" r="2.5"/><circle cx="398.8" cy="91.8" r="2.5"/><circle cx="416.9" cy="87.6" r="2.5"/><circle cx="416.2" cy="91.1" r="2.5"/><circle cx="418.3" cy="95.3" r="2.5"/><circle cx="419.7" cy="89.0" r="2.5"/><circle cx="422.4" cy="75.1" r="2.5"/><circle cx="426.6" cy="73.1" r="2.5"/><circle cx="433.6" cy="73.1" r="2.5"/><circle cx="428.0" cy="77.2" r="2.5"/><circle cx="423.8" cy="80.0" r="2.5"/><circle cx="429.4" cy="82.1" r="2.5"/><circle cx="434.9" cy="80.0" r="2.5"/><circle cx="432.2" cy="84.9" r="2.5"/><circle cx="426.6" cy="85.6" r="2.5"/><circle cx="422.4" cy="87.6" r="2.5"/><circle cx="434.9" cy="88.3" r="2.5"/><circle cx="430.8" cy="90.4" r="2.5"/><circle cx="425.9" cy="91.8" r="2.5"/><circle cx="436.3" cy="93.2" r="2.5"/><circle cx="429.4" cy="95.3" r="2.5"/><circle cx="433.6" cy="96.7" r="2.5"/><circle cx="426.6" cy="98.8" r="2.5"/><circle cx="436.3" cy="56.4" r="2.5"/><circle cx="438.7" cy="56.4" r="2.5"/><circle cx="447.7" cy="64.0" r="2.5"/><circle cx="447.7" cy="68.9" r="2.5"/><circle cx="451.9" cy="68.2" r="2.5"/><circle cx="454.0" cy="70.3" r="2.5"/><circle cx="458.1" cy="73.8" r="2.5"/><circle cx="442.2" cy="71.0" r="2.5"/><circle cx="456.0" cy="79.3" r="2.5"/><circle cx="465.8" cy="83.5" r="2.5"/><circle cx="472.0" cy="83.5" r="2.5"/><circle cx="482.4" cy="81.4" r="2.5"/><circle cx="486.6" cy="84.9" r="2.5"/><circle cx="485.9" cy="90.4" r="2.5"/><circle cx="488.7" cy="93.9" r="2.5"/><circle cx="478.3" cy="93.2" r="2.5"/><circle cx="470.6" cy="89.0" r="2.5"/><circle cx="465.8" cy="88.3" r="2.5"/><circle cx="496.3" cy="98.0" r="2.5"/><circle cx="486.6" cy="97.4" r="2.5"/><circle cx="335.4" cy="103.8" r="2.5"/><circle cx="337.3" cy="115.3" r="2.5"/><circle cx="341.6" cy="110.2" r="2.5"/><circle cx="345.7" cy="105.6" r="2.5"/><circle cx="342.5" cy="100.8" r="2.5"/><circle cx="345.7" cy="100.8" r="2.5"/><circle cx="335.4" cy="98.9" r="2.5"/><circle cx="352.1" cy="96.3" r="2.5"/><circle cx="359.2" cy="101.4" r="2.5"/><circle cx="361.8" cy="97.8" r="2.5"/><circle cx="356.6" cy="96.3" r="2.5"/><circle cx="359.4" cy="113.3" r="2.5"/><circle cx="375.7" cy="98.2" r="2.5"/><circle cx="381.7" cy="107.2" r="2.5"/><circle cx="417.1" cy="97.6" r="2.5"/><circle cx="417.7" cy="95.1" r="2.5"/><circle cx="417.7" cy="97.7" r="2.5"/><circle cx="428.0" cy="99.7" r="2.5"/><circle cx="433.8" cy="100.3" r="2.5"/><circle cx="440.2" cy="97.1" r="2.5"/><circle cx="449.9" cy="108.7" r="2.5"/><circle cx="451.8" cy="103.5" r="2.5"/><circle cx="457.6" cy="108.7" r="2.5"/><circle cx="456.3" cy="102.2" r="2.5"/><circle cx="461.5" cy="102.2" r="2.5"/><circle cx="466.6" cy="108.0" r="2.5"/><circle cx="469.2" cy="104.2" r="2.5"/><circle cx="472.4" cy="113.2" r="2.5"/><circle cx="467.9" cy="119.3" r="2.5"/><circle cx="478.2" cy="93.2" r="2.5"/><circle cx="474.4" cy="97.7" r="2.5"/><circle cx="486.8" cy="91.3" r="2.5"/><circle cx="486.8" cy="95.1" r="2.5"/><circle cx="486.8" cy="99.0" r="2.5"/><circle cx="486.8" cy="102.9" r="2.5"/><circle cx="486.8" cy="106.7" r="2.5"/><circle cx="486.8" cy="109.3" r="2.5"/><circle cx="488.5" cy="113.2" r="2.5"/><circle cx="486.8" cy="117.0" r="2.5"/><circle cx="488.5" cy="119.6" r="2.5"/><circle cx="496.2" cy="98.4" r="2.5"/><circle cx="488.5" cy="93.9" r="2.5"/></g>
<g fill="#000"><circle cx="599.1" cy="60.1" r="2.5"/><circle cx="599.0" cy="64.7" r="2.5"/><circle cx="599.2" cy="69.2" r="2.5"/><circle cx="599.2" cy="71.0" r="2.5"/><circle cx="599.1" cy="72.9" r="2.5"/><circle cx="599.2" cy="76.6" r="2.5"/><circle cx="599.2" cy="81.7" r="2.5"/><circle cx="599.0" cy="84.6" r="2.5"/><circle cx="599.1" cy="85.5" r="2.5"/><circle cx="599.1" cy="88.6" r="2.5"/><circle cx="599.1" cy="93.7" r="2.5"/><circle cx="599.0" cy="95.9" r="2.5"/><circle cx="599.2" cy="97.5" r="2.5"/><circle cx="601.1" cy="61.7" r="2.5"/><circle cx="601.2" cy="64.5" r="2.5"/><circle cx="601.2" cy="66.6" r="2.5"/><circle cx="601.2" cy="68.6" r="2.5"/><circle cx="601.1" cy="74.0" r="2.5"/><circle cx="601.2" cy="77.6" r="2.5"/><circle cx="601.2" cy="79.2" r="2.5"/><circle cx="601.0" cy="82.0" r="2.5"/><circle cx="601.1" cy="86.1" r="2.5"/><circle cx="601.1" cy="88.0" r="2.5"/><circle cx="601.0" cy="91.3" r="2.5"/><circle cx="601.0" cy="94.1" r="2.5"/><circle cx="601.0" cy="99.2" r="2.5"/><circle cx="603.1" cy="60.1" r="2.5"/><circle cx="603.2" cy="61.3" r="2.5"/><circle cx="603.2" cy="64.5" r="2.5"/><circle cx="603.1" cy="69.1" r="2.5"/><circle cx="603.0" cy="71.1" r="2.5"/><circle cx="603.2" cy="75.7" r="2.5"/><circle cx="603.1" cy="80.2" r="2.5"/><circle cx="603.2" cy="83.4" r="2.5"/><circle cx="603.1" cy="87.0" r="2.5"/><circle cx="603.2" cy="90.3" r="2.5"/><circle cx="603.0" cy="93.4" r="2.5"/><circle cx="603.0" cy="96.1" r="2.5"/><circle cx="603.0" cy="97.9" r="2.5"/><circle cx="605.2" cy="57.3" r="2.5"/><circle cx="605.2" cy="60.4" r="2.5"/><circle cx="605.0" cy="65.0" r="2.5"/><circle cx="605.1" cy="68.4" r="2.5"/><circle cx="605.1" cy="70.2" r="2.5"/><circle cx="605.2" cy="75.3" r="2.5"/><circle cx="605.0" cy="77.3" r="2.5"/><circle cx="605.1" cy="81.0" r="2.5"/><circle cx="605.2" cy="84.2" r="2.5"/><circle cx="605.0" cy="89.4" r="2.5"/><circle cx="605.1" cy="91.9" r="2.5"/><circle cx="605.3" cy="93.1" r="2.5"/><circle cx="605.0" cy="99.2" r="2.5"/><circle cx="607.1" cy="57.0" r="2.5"/><circle cx="607.1" cy="61.8" r="2.5"/><circle cx="607.1" cy="63.0" r="2.5"/><circle cx="607.2" cy="67.1" r="2.5"/><circle cx="607.3" cy="71.9" r="2.5"/><circle cx="607.1" cy="74.4" r="2.5"/><circle cx="607.1" cy="76.6" r="2.5"/><circle cx="607.1" cy="81.4" r="2.5"/><circle cx="607.3" cy="83.2" r="2.5"/><circle cx="607.0" cy="88.6" r="2.5"/><circle cx="607.0" cy="92.2" r="2.5"/><circle cx="607.1" cy="94.4" r="2.5"/><circle cx="607.1" cy="97.9" r="2.5"/><circle cx="609.2" cy="56.7" r="2.5"/><circle cx="609.1" cy="59.8" r="2.5"/><circle cx="609.1" cy="62.1" r="2.5"/><circle cx="609.2" cy="66.5" r="2.5"/><circle cx="609.1" cy="69.3" r="2.5"/><circle cx="609.2" cy="72.2" r="2.5"/><circle cx="609.2" cy="74.6" r="2.5"/><circle cx="609.0" cy="80.0" r="2.5"/><circle cx="609.2" cy="81.7" r="2.5"/><circle cx="609.1" cy="85.9" r="2.5"/><circle cx="609.1" cy="88.1" r="2.5"/><circle cx="609.0" cy="90.7" r="2.5"/><circle cx="609.1" cy="80.3" r="2.5"/><circle cx="609.1" cy="84.0" r="2.5"/><circle cx="609.2" cy="90.7" r="2.5"/><circle cx="611.1" cy="60.9" r="2.5"/><circle cx="611.1" cy="71.6" r="2.5"/><circle cx="611.3" cy="75.5" r="2.5"/><circle cx="611.2" cy="86.0" r="2.5"/><circle cx="611.1" cy="93.1" r="2.5"/><circle cx="613.2" cy="64.5" r="2.5"/><circle cx="613.2" cy="74.1" r="2.5"/><circle cx="613.2" cy="79.6" r="2.5"/><circle cx="613.2" cy="83.3" r="2.5"/><circle cx="613.2" cy="92.5" r="2.5"/><circle cx="615.2" cy="61.7" r="2.5"/><circle cx="615.2" cy="71.6" r="2.5"/><circle cx="615.1" cy="76.4" r="2.5"/><circle cx="615.1" cy="84.7" r="2.5"/><circle cx="615.2" cy="85.3" r="2.5"/><circle cx="617.1" cy="67.5" r="2.5"/><circle cx="617.0" cy="71.7" r="2.5"/><circle cx="617.2" cy="80.8" r="2.5"/><circle cx="617.3" cy="71.2" r="2.5"/><circle cx="617.3" cy="77.6" r="2.5"/><circle cx="619.1" cy="72.0" r="2.5"/><circle cx="619.0" cy="88.0" r="2.5"/><circle cx="621.1" cy="73.7" r="2.5"/><circle cx="621.1" cy="81.9" r="2.5"/><circle cx="623.3" cy="70.6" r="2.5"/><circle cx="623.3" cy="81.5" r="2.5"/><circle cx="625.2" cy="70.6" r="2.5"/><circle cx="625.2" cy="76.3" r="2.5"/><circle cx="627.2" cy="71.9" r="2.5"/><circle cx="627.2" cy="76.1" r="2.5"/><circle cx="629.1" cy="60.9" r="2.5"/><circle cx="629.3" cy="82.3" r="2.5"/><circle cx="631.3" cy="66.4" r="2.5"/><circle cx="631.2" cy="88.3" r="2.5"/><circle cx="633.2" cy="59.5" r="2.5"/><circle cx="633.4" cy="85.4" r="2.5"/><circle cx="635.2" cy="62.5" r="2.5"/><circle cx="635.1" cy="89.6" r="2.5"/><circle cx="637.2" cy="70.0" r="2.5"/><circle cx="637.3" cy="85.0" r="2.5"/><circle cx="639.3" cy="57.6" r="2.5"/><circle cx="639.1" cy="89.4" r="2.5"/><circle cx="641.3" cy="73.7" r="2.5"/><circle cx="641.1" cy="90.3" r="2.5"/><circle cx="643.3" cy="60.7" r="2.5"/><circle cx="643.4" cy="83.1" r="2.5"/><circle cx="645.2" cy="66.7" r="2.5"/><circle cx="645.4" cy="88.4" r="2.5"/><circle cx="647.2" cy="58.4" r="2.5"/><circle cx="647.1" cy="79.4" r="2.5"/><circle cx="649.2" cy="61.6" r="2.5"/><circle cx="649.2" cy="89.6" r="2.5"/><circle cx="651.3" cy="70.3" r="2.5"/><circle cx="651.3" cy="76.4" r="2.5"/><circle cx="653.2" cy="68.8" r="2.5"/><circle cx="653.2" cy="84.1" r="2.5"/><circle cx="655.2" cy="65.7" r="2.5"/><circle cx="655.4" cy="89.5" r="2.5"/><circle cx="657.2" cy="69.0" r="2.5"/><circle cx="657.4" cy="76.9" r="2.5"/><circle cx="659.4" cy="70.5" r="2.5"/><circle cx="659.2" cy="81.6" r="2.5"/><circle cx="661.4" cy="67.0" r="2.5"/><circle cx="661.2" cy="89.3" r="2.5"/><circle cx="663.3" cy="74.0" r="2.5"/><circle cx="663.2" cy="80.5" r="2.5"/><circle cx="665.3" cy="65.4" r="2.5"/><circle cx="665.5" cy="76.2" r="2.5"/><circle cx="667.2" cy="72.1" r="2.5"/><circle cx="667.3" cy="87.6" r="2.5"/><circle cx="669.5" cy="63.6" r="2.5"/><circle cx="669.3" cy="77.4" r="2.5"/><circle cx="671.4" cy="71.6" r="2.5"/><circle cx="671.4" cy="87.8" r="2.5"/><circle cx="673.2" cy="69.5" r="2.5"/><circle cx="673.5" cy="90.4" r="2.5"/><circle cx="675.3" cy="72.0" r="2.5"/><circle cx="675.2" cy="80.6" r="2.5"/><circle cx="677.3" cy="63.8" r="2.5"/><circle cx="677.3" cy="91.2" r="2.5"/><circle cx="679.4" cy="84.5" r="2.5"/><circle cx="681.4" cy="69.3" r="2.5"/><circle cx="681.3" cy="89.5" r="2.5"/><circle cx="683.3" cy="68.5" r="2.5"/><circle cx="683.4" cy="91.7" r="2.5"/><circle cx="685.3" cy="74.3" r="2.5"/><circle cx="685.3" cy="85.7" r="2.5"/><circle cx="687.6" cy="70.6" r="2.5"/><circle cx="687.5" cy="81.5" r="2.5"/><circle cx="689.3" cy="83.3" r="2.5"/><circle cx="701.5" cy="68.2" r="2.5"/><circle cx="701.6" cy="84.0" r="2.5"/><circle cx="701.5" cy="93.4" r="2.5"/><circle cx="703.5" cy="66.8" r="2.5"/><circle cx="703.4" cy="79.5" r="2.5"/><circle cx="703.4" cy="95.2" r="2.5"/><circle cx="705.5" cy="77.4" r="2.5"/><circle cx="705.4" cy="82.6" r="2.5"/><circle cx="707.5" cy="76.0" r="2.5"/><circle cx="707.4" cy="93.2" r="2.5"/><circle cx="709.5" cy="69.0" r="2.5"/><circle cx="709.5" cy="80.7" r="2.5"/><circle cx="709.4" cy="91.9" r="2.5"/><circle cx="711.6" cy="68.2" r="2.5"/><circle cx="711.5" cy="78.6" r="2.5"/><circle cx="711.5" cy="89.1" r="2.5"/><circle cx="713.4" cy="70.3" r="2.5"/><circle cx="713.6" cy="96.0" r="2.5"/><circle cx="715.6" cy="73.4" r="2.5"/><circle cx="715.6" cy="82.2" r="2.5"/><circle cx="715.4" cy="88.7" r="2.5"/><circle cx="717.4" cy="79.0" r="2.5"/><circle cx="717.5" cy="81.9" r="2.5"/><circle cx="717.4" cy="96.0" r="2.5"/><circle cx="719.6" cy="76.0" r="2.5"/><circle cx="719.5" cy="84.6" r="2.5"/><circle cx="719.5" cy="92.4" r="2.5"/><circle cx="721.5" cy="86.0" r="2.5"/><circle cx="721.5" cy="96.2" r="2.5"/><circle cx="723.6" cy="80.5" r="2.5"/><circle cx="723.7" cy="97.2" r="2.5"/><circle cx="725.5" cy="87.0" r="2.5"/><circle cx="725.5" cy="95.7" r="2.5"/><circle cx="727.6" cy="81.5" r="2.5"/><circle cx="727.5" cy="89.9" r="2.5"/><circle cx="729.5" cy="93.8" r="2.5"/><circle cx="731.5" cy="85.2" r="2.5"/><circle cx="733.5" cy="90.2" r="2.5"/><circle cx="735.7" cy="84.6" r="2.5"/><circle cx="613.3" cy="44.9" r="2.5"/><circle cx="617.4" cy="44.9" r="2.5"/><circle cx="609.1" cy="49.7" r="2.5"/><circle cx="608.4" cy="53.2" r="2.5"/><circle cx="618.8" cy="51.8" r="2.5"/><circle cx="621.6" cy="52.5" r="2.5"/><circle cx="629.9" cy="51.1" r="2.5"/><circle cx="627.1" cy="55.6" r="2.5"/><circle cx="635.5" cy="44.2" r="2.5"/><circle cx="637.6" cy="51.4" r="2.5"/><circle cx="639.6" cy="57.4" r="2.5"/><circle cx="631.3" cy="59.2" r="2.5"/><circle cx="605.6" cy="58.8" r="2.5"/><circle cx="611.9" cy="56.7" r="2.5"/><circle cx="649.2" cy="44.2" r="2.5"/><circle cx="649.2" cy="48.3" r="2.5"/><circle cx="649.2" cy="55.3" r="2.5"/><circle cx="644.8" cy="56.7" r="2.5"/><circle cx="655.2" cy="58.8" r="2.5"/><circle cx="659.4" cy="59.2" r="2.5"/><circle cx="665.3" cy="50.8" r="2.5"/><circle cx="683.4" cy="56.0" r="2.5"/><circle cx="689.5" cy="47.4" r="2.5"/><circle cx="701.0" cy="44.9" r="2.5"/><circle cx="701.0" cy="51.8" r="2.5"/><circle cx="616.7" cy="59.9" r="2.5"/><circle cx="620.9" cy="64.0" r="2.5"/><circle cx="626.4" cy="61.3" r="2.5"/><circle cx="631.3" cy="60.6" r="2.5"/><circle cx="638.9" cy="57.8" r="2.5"/><circle cx="638.9" cy="63.3" r="2.5"/><circle cx="623.7" cy="68.2" r="2.5"/><circle cx="629.2" cy="68.9" r="2.5"/><circle cx="633.4" cy="68.9" r="2.5"/><circle cx="638.9" cy="68.9" r="2.5"/><circle cx="620.2" cy="75.8" r="2.5"/><circle cx="625.1" cy="77.2" r="2.5"/><circle cx="625.1" cy="81.4" r="2.5"/><circle cx="629.9" cy="79.3" r="2.5"/><circle cx="629.9" cy="84.2" r="2.5"/><circle cx="635.5" cy="79.3" r="2.5"/><circle cx="638.9" cy="79.3" r="2.5"/><circle cx="638.9" cy="83.5" r="2.5"/><circle cx="618.8" cy="84.9" r="2.5"/><circle cx="622.3" cy="93.2" r="2.5"/><circle cx="623.7" cy="96.0" r="2.5"/><circle cx="638.9" cy="94.6" r="2.5"/><circle cx="605.6" cy="97.4" r="2.5"/><circle cx="644.8" cy="56.4" r="2.5"/><circle cx="648.9" cy="55.7" r="2.5"/><circle cx="655.2" cy="58.5" r="2.5"/><circle cx="659.4" cy="60.6" r="2.5"/><circle cx="647.6" cy="63.3" r="2.5"/><circle cx="655.9" cy="64.7" r="2.5"/><circle cx="667.0" cy="65.4" r="2.5"/><circle cx="673.3" cy="61.3" r="2.5"/><circle cx="678.8" cy="62.6" r="2.5"/><circle cx="683.0" cy="55.7" r="2.5"/><circle cx="643.4" cy="68.9" r="2.5"/><circle cx="648.9" cy="70.3" r="2.5"/><circle cx="655.9" cy="69.6" r="2.5"/><circle cx="661.4" cy="70.3" r="2.5"/><circle cx="665.6" cy="69.6" r="2.5"/><circle cx="671.9" cy="72.4" r="2.5"/><circle cx="675.3" cy="72.4" r="2.5"/><circle cx="644.8" cy="75.8" r="2.5"/><circle cx="650.3" cy="76.5" r="2.5"/><circle cx="655.2" cy="77.9" r="2.5"/><circle cx="661.4" cy="75.8" r="2.5"/><circle cx="664.9" cy="75.8" r="2.5"/><circle cx="671.2" cy="80.7" r="2.5"/><circle cx="646.2" cy="82.1" r="2.5"/><circle cx="651.7" cy="81.4" r="2.5"/><circle cx="658.7" cy="82.1" r="2.5"/><circle cx="664.2" cy="80.0" r="2.5"/><circle cx="644.8" cy="87.0" r="2.5"/><circle cx="648.9" cy="85.6" r="2.5"/><circle cx="653.8" cy="84.9" r="2.5"/><circle cx="660.1" cy="88.3" r="2.5"/><circle cx="664.2" cy="88.3" r="2.5"/><circle cx="665.6" cy="84.2" r="2.5"/><circle cx="691.3" cy="62.6" r="2.5"/><circle cx="691.3" cy="66.8" r="2.5"/><circle cx="697.6" cy="68.9" r="2.5"/><circle cx="686.4" cy="71.7" r="2.5"/><circle cx="690.6" cy="71.0" r="2.5"/><circle cx="694.8" cy="72.4" r="2.5"/><circle cx="700.3" cy="71.7" r="2.5"/><circle cx="685.1" cy="75.8" r="2.5"/><circle cx="689.2" cy="77.2" r="2.5"/><circle cx="695.5" cy="77.2" r="2.5"/><circle cx="700.3" cy="77.9" r="2.5"/><circle cx="687.8" cy="81.4" r="2.5"/><circle cx="692.0" cy="81.4" r="2.5"/><circle cx="697.6" cy="82.1" r="2.5"/><circle cx="679.5" cy="85.6" r="2.5"/><circle cx="683.7" cy="84.9" r="2.5"/><circle cx="689.2" cy="86.2" r="2.5"/><circle cx="694.8" cy="85.6" r="2.5"/><circle cx="700.3" cy="87.0" r="2.5"/><circle cx="680.9" cy="92.5" r="2.5"/><circle cx="689.9" cy="91.1" r="2.5"/><circle cx="694.8" cy="89.7" r="2.5"/><circle cx="698.9" cy="92.5" r="2.5"/><circle cx="690.6" cy="96.0" r="2.5"/><circle cx="695.5" cy="95.3" r="2.5"/><circle cx="698.9" cy="98.0" r="2.5"/><circle cx="701.7" cy="51.8" r="2.5"/><circle cx="701.7" cy="45.8" r="2.5"/><circle cx="711.5" cy="58.2" r="2.5"/><circle cx="711.9" cy="65.4" r="2.5"/><circle cx="717.0" cy="65.4" r="2.5"/><circle cx="721.2" cy="70.5" r="2.5"/><circle cx="705.1" cy="67.1" r="2.5"/><circle cx="718.7" cy="76.4" r="2.5"/><circle cx="729.7" cy="79.8" r="2.5"/><circle cx="735.7" cy="81.5" r="2.5"/><circle cx="745.5" cy="78.1" r="2.5"/><circle cx="749.7" cy="81.5" r="2.5"/><circle cx="741.6" cy="90.0" r="2.5"/><circle cx="749.2" cy="87.4" r="2.5"/><circle cx="751.8" cy="90.0" r="2.5"/><circle cx="749.2" cy="93.4" r="2.5"/><circle cx="749.2" cy="98.5" r="2.5"/><circle cx="759.8" cy="95.1" r="2.5"/><circle cx="737.4" cy="94.2" r="2.5"/><circle cx="599.2" cy="99.7" r="2.5"/><circle cx="601.1" cy="111.6" r="2.5"/><circle cx="605.2" cy="107.2" r="2.5"/><circle cx="608.8" cy="102.0" r="2.5"/><circle cx="605.0" cy="98.4" r="2.5"/><circle cx="608.8" cy="97.1" r="2.5"/><circle cx="615.2" cy="93.0" r="2.5"/><circle cx="623.0" cy="97.8" r="2.5"/><circle cx="625.5" cy="94.3" r="2.5"/><circle cx="623.0" cy="110.3" r="2.5"/><circle cx="639.3" cy="94.6" r="2.5"/><circle cx="645.2" cy="104.2" r="2.5"/><circle cx="681.3" cy="93.5" r="2.5"/><circle cx="600.0" cy="95.0" r="2.5"/><circle cx="604.0" cy="94.0" r="2.5"/><circle cx="608.0" cy="93.0" r="2.5"/><circle cx="612.0" cy="95.0" r="2.5"/><circle cx="681.5" cy="93.1" r="2.5"/><circle cx="691.2" cy="95.7" r="2.5"/><circle cx="697.0" cy="97.0" r="2.5"/><circle cx="702.7" cy="93.1" r="2.5"/><circle cx="707.9" cy="93.1" r="2.5"/><circle cx="713.7" cy="105.4" r="2.5"/><circle cx="715.6" cy="100.2" r="2.5"/><circle cx="721.4" cy="106.0" r="2.5"/><circle cx="720.1" cy="99.6" r="2.5"/><circle cx="725.3" cy="99.6" r="2.5"/><circle cx="729.8" cy="104.1" r="2.5"/><circle cx="732.3" cy="100.9" r="2.5"/><circle cx="735.6" cy="110.5" r="2.5"/><circle cx="731.7" cy="117.0" r="2.5"/><circle cx="737.5" cy="94.4" r="2.5"/><circle cx="741.4" cy="89.9" r="2.5"/><circle cx="760.0" cy="95.1" r="2.5"/><circle cx="750.4" cy="89.3" r="2.5"/><circle cx="750.4" cy="93.1" r="2.5"/><circle cx="750.4" cy="97.0" r="2.5"/><circle cx="750.4" cy="100.9" r="2.5"/><circle cx="751.0" cy="104.1" r="2.5"/><circle cx="751.6" cy="107.3" r="2.5"/><circle cx="750.4" cy="111.8" r="2.5"/><circle cx="750.4" cy="114.4" r="2.5"/><circle cx="752.3" cy="116.3" r="2.5"/><circle cx="690.0" cy="90.0" r="2.5"/><circle cx="695.0" cy="91.0" r="2.5"/><circle cx="700.0" cy="90.0" r="2.5"/><circle cx="705.0" cy="91.0" r="2.5"/><circle cx="710.0" cy="92.0" r="2.5"/><circle cx="715.0" cy="94.0" r="2.5"/><circle cx="720.0" cy="95.0" r="2.5"/><circle cx="725.0" cy="96.0" r="2.5"/><circle cx="730.0" cy="95.0" r="2.5"/><circle cx="686.0" cy="91.0" r="2.5"/></g>
<g fill="#fff" stroke="#000" stroke-width="0.95"><circle cx="76.2" cy="185.4" r="2.15"/><circle cx="116.1" cy="186.8" r="2.15"/><circle cx="71.6" cy="193.1" r="2.15"/><circle cx="73.7" cy="195.1" r="2.15"/><circle cx="82.1" cy="193.1" r="2.15"/><circle cx="87.6" cy="196.5" r="2.15"/><circle cx="120.3" cy="198.3" r="2.15"/><circle cx="111.9" cy="202.1" r="2.15"/><circle cx="75.1" cy="200.0" r="2.15"/><circle cx="84.1" cy="200.0" r="2.15"/><circle cx="86.2" cy="202.1" r="2.15"/><circle cx="71.6" cy="203.5" r="2.15"/><circle cx="77.2" cy="204.2" r="2.15"/><circle cx="89.7" cy="204.9" r="2.15"/><circle cx="98.7" cy="204.9" r="2.15"/><circle cx="101.5" cy="204.9" r="2.15"/><circle cx="72.3" cy="207.6" r="2.15"/><circle cx="77.9" cy="208.3" r="2.15"/><circle cx="83.4" cy="207.6" r="2.15"/><circle cx="87.6" cy="208.3" r="2.15"/><circle cx="96.0" cy="209.0" r="2.15"/><circle cx="102.9" cy="209.0" r="2.15"/><circle cx="108.4" cy="209.0" r="2.15"/><circle cx="118.2" cy="207.0" r="2.15"/><circle cx="117.5" cy="202.8" r="2.15"/><circle cx="122.3" cy="202.8" r="2.15"/><circle cx="134.0" cy="186.4" r="2.15"/><circle cx="136.5" cy="191.9" r="2.15"/><circle cx="152.5" cy="188.2" r="2.15"/><circle cx="153.2" cy="192.4" r="2.15"/><circle cx="164.3" cy="186.8" r="2.15"/><circle cx="142.1" cy="196.5" r="2.15"/><circle cx="146.2" cy="200.0" r="2.15"/><circle cx="153.9" cy="196.5" r="2.15"/><circle cx="160.4" cy="196.5" r="2.15"/><circle cx="168.4" cy="193.8" r="2.15"/><circle cx="172.6" cy="193.8" r="2.15"/><circle cx="178.2" cy="189.6" r="2.15"/><circle cx="181.0" cy="188.2" r="2.15"/><circle cx="124.7" cy="203.5" r="2.15"/><circle cx="164.3" cy="200.0" r="2.15"/><circle cx="208.3" cy="200.3" r="2.15"/><circle cx="224.6" cy="198.6" r="2.15"/><circle cx="200.7" cy="204.9" r="2.15"/><circle cx="206.2" cy="204.9" r="2.15"/><circle cx="193.7" cy="202.1" r="2.15"/><circle cx="190.2" cy="198.6" r="2.15"/><circle cx="186.1" cy="197.9" r="2.15"/><circle cx="212.5" cy="210.4" r="2.15"/><circle cx="216.6" cy="213.2" r="2.15"/><circle cx="222.2" cy="208.3" r="2.15"/><circle cx="224.3" cy="210.4" r="2.15"/><circle cx="222.9" cy="215.3" r="2.15"/><circle cx="232.6" cy="215.3" r="2.15"/><circle cx="209.7" cy="214.6" r="2.15"/><circle cx="204.8" cy="212.5" r="2.15"/><circle cx="71.6" cy="226.8" r="2.15"/><circle cx="77.9" cy="227.5" r="2.15"/><circle cx="77.9" cy="231.0" r="2.15"/><circle cx="77.9" cy="234.4" r="2.15"/><circle cx="77.9" cy="237.2" r="2.15"/><circle cx="77.9" cy="240.0" r="2.15"/><circle cx="84.1" cy="237.2" r="2.15"/><circle cx="82.1" cy="234.4" r="2.15"/><circle cx="87.6" cy="227.5" r="2.15"/><circle cx="90.4" cy="222.6" r="2.15"/><circle cx="93.9" cy="228.9" r="2.15"/><circle cx="93.9" cy="230.3" r="2.15"/><circle cx="110.5" cy="223.3" r="2.15"/><circle cx="110.5" cy="226.8" r="2.15"/><circle cx="109.8" cy="218.5" r="2.15"/><circle cx="117.5" cy="221.9" r="2.15"/><circle cx="120.9" cy="221.9" r="2.15"/><circle cx="118.2" cy="232.4" r="2.15"/><circle cx="119.6" cy="239.3" r="2.15"/><circle cx="122.3" cy="217.8" r="2.15"/><circle cx="122.3" cy="225.4" r="2.15"/><circle cx="101.5" cy="217.1" r="2.15"/><circle cx="130.2" cy="226.8" r="2.15"/><circle cx="130.2" cy="228.9" r="2.15"/><circle cx="150.4" cy="232.4" r="2.15"/><circle cx="162.2" cy="235.1" r="2.15"/><circle cx="178.2" cy="237.2" r="2.15"/><circle cx="181.0" cy="237.2" r="2.15"/><circle cx="154.6" cy="227.5" r="2.15"/><circle cx="164.3" cy="228.9" r="2.15"/><circle cx="149.0" cy="225.4" r="2.15"/><circle cx="142.1" cy="224.0" r="2.15"/><circle cx="140.0" cy="220.6" r="2.15"/><circle cx="181.0" cy="230.3" r="2.15"/><circle cx="125.4" cy="225.4" r="2.15"/><circle cx="192.3" cy="240.7" r="2.15"/><circle cx="204.8" cy="235.1" r="2.15"/><circle cx="208.3" cy="233.8" r="2.15"/><circle cx="206.2" cy="237.2" r="2.15"/><circle cx="216.6" cy="237.2" r="2.15"/><circle cx="222.6" cy="239.3" r="2.15"/><circle cx="221.5" cy="230.3" r="2.15"/><circle cx="222.2" cy="228.2" r="2.15"/><circle cx="218.7" cy="220.6" r="2.15"/><circle cx="222.9" cy="224.0" r="2.15"/><circle cx="222.9" cy="219.2" r="2.15"/><circle cx="225.7" cy="217.1" r="2.15"/><circle cx="234.7" cy="222.6" r="2.15"/><circle cx="232.6" cy="215.7" r="2.15"/><circle cx="209.0" cy="224.0" r="2.15"/><circle cx="203.4" cy="226.8" r="2.15"/><circle cx="197.9" cy="228.9" r="2.15"/><circle cx="192.3" cy="230.3" r="2.15"/><circle cx="186.8" cy="233.0" r="2.15"/><circle cx="186.1" cy="235.8" r="2.15"/><circle cx="72.1" cy="198.0" r="2.15"/><circle cx="72.0" cy="202.5" r="2.15"/><circle cx="72.2" cy="207.5" r="2.15"/><circle cx="72.1" cy="211.3" r="2.15"/><circle cx="72.0" cy="215.3" r="2.15"/><circle cx="72.1" cy="217.5" r="2.15"/><circle cx="72.1" cy="221.2" r="2.15"/><circle cx="72.2" cy="227.8" r="2.15"/><circle cx="74.0" cy="199.9" r="2.15"/><circle cx="74.0" cy="205.2" r="2.15"/><circle cx="74.1" cy="207.2" r="2.15"/><circle cx="74.1" cy="213.2" r="2.15"/><circle cx="74.1" cy="216.6" r="2.15"/><circle cx="74.2" cy="219.9" r="2.15"/><circle cx="74.1" cy="226.0" r="2.15"/><circle cx="76.1" cy="196.7" r="2.15"/><circle cx="76.2" cy="202.8" r="2.15"/><circle cx="76.1" cy="208.1" r="2.15"/><circle cx="76.3" cy="210.5" r="2.15"/><circle cx="76.1" cy="215.2" r="2.15"/><circle cx="76.3" cy="218.8" r="2.15"/><circle cx="76.3" cy="221.1" r="2.15"/><circle cx="76.1" cy="225.5" r="2.15"/><circle cx="78.1" cy="199.6" r="2.15"/><circle cx="78.2" cy="204.4" r="2.15"/><circle cx="78.1" cy="208.6" r="2.15"/><circle cx="78.2" cy="212.3" r="2.15"/><circle cx="78.2" cy="214.1" r="2.15"/><circle cx="78.2" cy="217.3" r="2.15"/><circle cx="78.1" cy="222.7" r="2.15"/><circle cx="78.3" cy="226.3" r="2.15"/><circle cx="80.1" cy="197.8" r="2.15"/><circle cx="80.2" cy="204.3" r="2.15"/><circle cx="80.0" cy="209.7" r="2.15"/><circle cx="80.0" cy="214.9" r="2.15"/><circle cx="80.2" cy="220.1" r="2.15"/><circle cx="80.2" cy="222.1" r="2.15"/><circle cx="80.2" cy="225.3" r="2.15"/><circle cx="82.1" cy="199.7" r="2.15"/><circle cx="82.2" cy="204.7" r="2.15"/><circle cx="82.1" cy="208.5" r="2.15"/><circle cx="82.1" cy="209.8" r="2.15"/><circle cx="82.2" cy="214.2" r="2.15"/><circle cx="82.1" cy="218.0" r="2.15"/><circle cx="82.0" cy="221.6" r="2.15"/><circle cx="82.1" cy="227.0" r="2.15"/><circle cx="84.1" cy="198.9" r="2.15"/><circle cx="84.2" cy="203.3" r="2.15"/><circle cx="84.0" cy="208.7" r="2.15"/><circle cx="84.2" cy="215.2" r="2.15"/><circle cx="84.1" cy="215.3" r="2.15"/><circle cx="84.3" cy="221.1" r="2.15"/><circle cx="84.1" cy="227.2" r="2.15"/><circle cx="86.3" cy="201.4" r="2.15"/><circle cx="86.1" cy="206.9" r="2.15"/><circle cx="86.1" cy="208.9" r="2.15"/><circle cx="86.1" cy="213.7" r="2.15"/><circle cx="86.1" cy="216.7" r="2.15"/><circle cx="86.3" cy="220.1" r="2.15"/><circle cx="86.2" cy="224.5" r="2.15"/><circle cx="88.1" cy="201.6" r="2.15"/><circle cx="88.1" cy="206.4" r="2.15"/><circle cx="88.3" cy="209.7" r="2.15"/><circle cx="88.2" cy="214.1" r="2.15"/><circle cx="88.0" cy="215.7" r="2.15"/><circle cx="88.3" cy="223.5" r="2.15"/><circle cx="88.2" cy="225.6" r="2.15"/><circle cx="90.2" cy="203.5" r="2.15"/><circle cx="90.1" cy="207.4" r="2.15"/><circle cx="90.3" cy="209.9" r="2.15"/><circle cx="90.2" cy="216.4" r="2.15"/><circle cx="90.1" cy="219.0" r="2.15"/><circle cx="90.2" cy="221.5" r="2.15"/><circle cx="92.2" cy="206.3" r="2.15"/><circle cx="92.0" cy="215.0" r="2.15"/><circle cx="94.2" cy="210.4" r="2.15"/><circle cx="94.2" cy="218.2" r="2.15"/><circle cx="96.2" cy="207.2" r="2.15"/><circle cx="96.3" cy="216.2" r="2.15"/><circle cx="98.1" cy="207.5" r="2.15"/><circle cx="98.2" cy="215.6" r="2.15"/><circle cx="100.1" cy="204.7" r="2.15"/><circle cx="100.2" cy="215.4" r="2.15"/><circle cx="102.3" cy="209.4" r="2.15"/><circle cx="102.3" cy="216.4" r="2.15"/><circle cx="104.3" cy="209.6" r="2.15"/><circle cx="104.4" cy="213.0" r="2.15"/><circle cx="106.1" cy="210.9" r="2.15"/><circle cx="106.1" cy="212.7" r="2.15"/><circle cx="108.4" cy="210.9" r="2.15"/><circle cx="108.2" cy="215.6" r="2.15"/><circle cx="110.4" cy="205.5" r="2.15"/><circle cx="110.3" cy="215.2" r="2.15"/><circle cx="112.1" cy="210.7" r="2.15"/><circle cx="112.2" cy="212.9" r="2.15"/><circle cx="114.3" cy="209.6" r="2.15"/><circle cx="114.1" cy="213.9" r="2.15"/><circle cx="116.2" cy="207.0" r="2.15"/><circle cx="116.3" cy="209.6" r="2.15"/><circle cx="116.1" cy="218.1" r="2.15"/><circle cx="118.3" cy="207.6" r="2.15"/><circle cx="118.2" cy="211.6" r="2.15"/><circle cx="120.3" cy="207.3" r="2.15"/><circle cx="120.2" cy="219.0" r="2.15"/><circle cx="122.4" cy="207.8" r="2.15"/><circle cx="122.3" cy="217.2" r="2.15"/><circle cx="124.2" cy="209.0" r="2.15"/><circle cx="124.2" cy="213.5" r="2.15"/><circle cx="126.2" cy="212.0" r="2.15"/><circle cx="126.2" cy="220.2" r="2.15"/><circle cx="128.4" cy="210.6" r="2.15"/><circle cx="128.4" cy="220.4" r="2.15"/><circle cx="130.4" cy="207.7" r="2.15"/><circle cx="130.2" cy="215.2" r="2.15"/><circle cx="132.5" cy="211.4" r="2.15"/><circle cx="132.4" cy="219.9" r="2.15"/><circle cx="134.2" cy="212.7" r="2.15"/><circle cx="134.4" cy="221.9" r="2.15"/><circle cx="136.2" cy="204.7" r="2.15"/><circle cx="136.3" cy="215.4" r="2.15"/><circle cx="136.4" cy="218.8" r="2.15"/><circle cx="138.2" cy="207.1" r="2.15"/><circle cx="138.4" cy="210.8" r="2.15"/><circle cx="138.2" cy="219.0" r="2.15"/><circle cx="140.3" cy="209.9" r="2.15"/><circle cx="140.4" cy="213.6" r="2.15"/><circle cx="140.3" cy="216.6" r="2.15"/><circle cx="142.4" cy="208.5" r="2.15"/><circle cx="142.2" cy="211.3" r="2.15"/><circle cx="142.4" cy="219.1" r="2.15"/><circle cx="144.4" cy="206.7" r="2.15"/><circle cx="144.5" cy="216.2" r="2.15"/><circle cx="146.4" cy="212.4" r="2.15"/><circle cx="146.4" cy="216.2" r="2.15"/><circle cx="148.4" cy="205.2" r="2.15"/><circle cx="148.3" cy="214.6" r="2.15"/><circle cx="150.5" cy="207.7" r="2.15"/><circle cx="150.5" cy="211.0" r="2.15"/><circle cx="150.3" cy="220.9" r="2.15"/><circle cx="152.4" cy="207.3" r="2.15"/><circle cx="152.3" cy="214.0" r="2.15"/><circle cx="152.4" cy="218.0" r="2.15"/><circle cx="154.5" cy="206.4" r="2.15"/><circle cx="154.4" cy="213.7" r="2.15"/><circle cx="154.3" cy="217.5" r="2.15"/><circle cx="156.4" cy="209.0" r="2.15"/><circle cx="156.4" cy="211.8" r="2.15"/><circle cx="156.4" cy="222.2" r="2.15"/><circle cx="158.5" cy="207.4" r="2.15"/><circle cx="158.4" cy="213.1" r="2.15"/><circle cx="158.3" cy="220.9" r="2.15"/><circle cx="160.4" cy="205.3" r="2.15"/><circle cx="160.4" cy="207.4" r="2.15"/><circle cx="160.3" cy="214.6" r="2.15"/><circle cx="160.3" cy="218.6" r="2.15"/><circle cx="162.5" cy="204.4" r="2.15"/><circle cx="162.4" cy="212.1" r="2.15"/><circle cx="162.4" cy="217.5" r="2.15"/><circle cx="162.4" cy="220.3" r="2.15"/><circle cx="164.5" cy="196.8" r="2.15"/><circle cx="164.6" cy="205.9" r="2.15"/><circle cx="164.4" cy="209.6" r="2.15"/><circle cx="164.3" cy="211.8" r="2.15"/><circle cx="164.3" cy="216.8" r="2.15"/><circle cx="164.5" cy="222.0" r="2.15"/><circle cx="166.5" cy="196.7" r="2.15"/><circle cx="166.4" cy="204.5" r="2.15"/><circle cx="166.6" cy="211.0" r="2.15"/><circle cx="166.4" cy="212.2" r="2.15"/><circle cx="166.4" cy="220.0" r="2.15"/><circle cx="166.4" cy="223.0" r="2.15"/><circle cx="168.4" cy="196.4" r="2.15"/><circle cx="168.4" cy="201.3" r="2.15"/><circle cx="168.4" cy="206.7" r="2.15"/><circle cx="168.4" cy="214.3" r="2.15"/><circle cx="168.5" cy="223.5" r="2.15"/><circle cx="168.3" cy="228.6" r="2.15"/><circle cx="170.3" cy="195.5" r="2.15"/><circle cx="170.5" cy="201.6" r="2.15"/><circle cx="170.5" cy="206.4" r="2.15"/><circle cx="170.6" cy="211.7" r="2.15"/><circle cx="170.5" cy="216.6" r="2.15"/><circle cx="170.6" cy="221.2" r="2.15"/><circle cx="170.5" cy="227.6" r="2.15"/><circle cx="172.4" cy="194.2" r="2.15"/><circle cx="172.4" cy="205.0" r="2.15"/><circle cx="172.6" cy="208.1" r="2.15"/><circle cx="172.5" cy="214.5" r="2.15"/><circle cx="172.5" cy="222.4" r="2.15"/><circle cx="172.4" cy="229.0" r="2.15"/><circle cx="174.3" cy="194.0" r="2.15"/><circle cx="174.5" cy="202.6" r="2.15"/><circle cx="174.4" cy="207.4" r="2.15"/><circle cx="174.3" cy="213.5" r="2.15"/><circle cx="174.4" cy="218.9" r="2.15"/><circle cx="174.4" cy="222.2" r="2.15"/><circle cx="174.6" cy="227.1" r="2.15"/><circle cx="176.5" cy="197.4" r="2.15"/><circle cx="176.4" cy="198.4" r="2.15"/><circle cx="176.4" cy="206.6" r="2.15"/><circle cx="176.4" cy="214.4" r="2.15"/><circle cx="176.4" cy="222.7" r="2.15"/><circle cx="176.4" cy="226.5" r="2.15"/><circle cx="178.6" cy="193.0" r="2.15"/><circle cx="178.4" cy="199.3" r="2.15"/><circle cx="178.6" cy="204.6" r="2.15"/><circle cx="178.3" cy="212.5" r="2.15"/><circle cx="178.6" cy="214.9" r="2.15"/><circle cx="178.5" cy="222.6" r="2.15"/><circle cx="178.4" cy="227.7" r="2.15"/><circle cx="180.6" cy="190.5" r="2.15"/><circle cx="180.4" cy="197.5" r="2.15"/><circle cx="180.4" cy="201.4" r="2.15"/><circle cx="180.6" cy="208.1" r="2.15"/><circle cx="180.5" cy="213.3" r="2.15"/><circle cx="180.6" cy="217.4" r="2.15"/><circle cx="180.6" cy="222.0" r="2.15"/><circle cx="180.5" cy="226.6" r="2.15"/><circle cx="182.4" cy="196.8" r="2.15"/><circle cx="182.6" cy="200.4" r="2.15"/><circle cx="182.5" cy="203.9" r="2.15"/><circle cx="182.4" cy="211.2" r="2.15"/><circle cx="182.5" cy="217.8" r="2.15"/><circle cx="182.4" cy="226.0" r="2.15"/><circle cx="182.5" cy="228.1" r="2.15"/><circle cx="184.4" cy="197.7" r="2.15"/><circle cx="184.4" cy="202.8" r="2.15"/><circle cx="184.4" cy="206.0" r="2.15"/><circle cx="184.5" cy="214.4" r="2.15"/><circle cx="184.4" cy="220.6" r="2.15"/><circle cx="184.6" cy="223.0" r="2.15"/><circle cx="184.6" cy="231.2" r="2.15"/><circle cx="186.5" cy="197.1" r="2.15"/><circle cx="186.4" cy="205.4" r="2.15"/><circle cx="186.5" cy="208.4" r="2.15"/><circle cx="186.4" cy="216.3" r="2.15"/><circle cx="186.5" cy="219.1" r="2.15"/><circle cx="186.6" cy="226.1" r="2.15"/><circle cx="186.6" cy="232.4" r="2.15"/><circle cx="188.5" cy="200.0" r="2.15"/><circle cx="188.5" cy="206.1" r="2.15"/><circle cx="188.5" cy="207.8" r="2.15"/><circle cx="188.5" cy="213.4" r="2.15"/><circle cx="188.6" cy="220.6" r="2.15"/><circle cx="188.4" cy="223.5" r="2.15"/><circle cx="188.5" cy="229.9" r="2.15"/><circle cx="190.5" cy="203.1" r="2.15"/><circle cx="190.4" cy="208.2" r="2.15"/><circle cx="190.4" cy="212.4" r="2.15"/><circle cx="190.5" cy="216.0" r="2.15"/><circle cx="190.6" cy="222.4" r="2.15"/><circle cx="190.5" cy="231.8" r="2.15"/><circle cx="192.6" cy="200.8" r="2.15"/><circle cx="192.6" cy="206.0" r="2.15"/><circle cx="192.5" cy="212.7" r="2.15"/><circle cx="192.5" cy="218.7" r="2.15"/><circle cx="192.5" cy="224.2" r="2.15"/><circle cx="192.6" cy="226.0" r="2.15"/><circle cx="194.4" cy="203.2" r="2.15"/><circle cx="194.6" cy="210.0" r="2.15"/><circle cx="194.5" cy="214.1" r="2.15"/><circle cx="194.6" cy="216.9" r="2.15"/><circle cx="194.4" cy="221.9" r="2.15"/><circle cx="194.5" cy="228.9" r="2.15"/><circle cx="196.4" cy="204.4" r="2.15"/><circle cx="196.5" cy="207.2" r="2.15"/><circle cx="196.5" cy="214.0" r="2.15"/><circle cx="196.5" cy="220.7" r="2.15"/><circle cx="196.4" cy="228.0" r="2.15"/><circle cx="198.7" cy="204.6" r="2.15"/><circle cx="198.4" cy="209.2" r="2.15"/><circle cx="198.7" cy="217.5" r="2.15"/><circle cx="198.5" cy="218.5" r="2.15"/><circle cx="198.6" cy="228.0" r="2.15"/><circle cx="200.4" cy="206.6" r="2.15"/><circle cx="200.7" cy="214.2" r="2.15"/><circle cx="200.7" cy="218.2" r="2.15"/><circle cx="200.5" cy="224.6" r="2.15"/><circle cx="202.4" cy="206.1" r="2.15"/><circle cx="202.6" cy="208.9" r="2.15"/><circle cx="202.6" cy="212.7" r="2.15"/><circle cx="202.5" cy="219.5" r="2.15"/><circle cx="202.6" cy="223.1" r="2.15"/><circle cx="204.7" cy="208.6" r="2.15"/><circle cx="204.6" cy="209.3" r="2.15"/><circle cx="204.7" cy="219.5" r="2.15"/><circle cx="204.5" cy="222.3" r="2.15"/><circle cx="206.7" cy="211.1" r="2.15"/><circle cx="206.4" cy="211.7" r="2.15"/><circle cx="206.7" cy="218.8" r="2.15"/><circle cx="208.6" cy="208.2" r="2.15"/><circle cx="208.6" cy="217.2" r="2.15"/><circle cx="208.6" cy="219.3" r="2.15"/><circle cx="210.5" cy="213.9" r="2.15"/><circle cx="210.7" cy="217.9" r="2.15"/></g>
<g fill="#fff" stroke="#000" stroke-width="0.95"><circle cx="339.4" cy="196.9" r="2.15"/><circle cx="345.3" cy="206.9" r="2.15"/><circle cx="335.3" cy="208.1" r="2.15"/><circle cx="337.4" cy="209.4" r="2.15"/><circle cx="341.5" cy="212.2" r="2.15"/><circle cx="347.8" cy="212.9" r="2.15"/><circle cx="352.6" cy="212.2" r="2.15"/><circle cx="354.0" cy="211.5" r="2.15"/><circle cx="364.4" cy="215.7" r="2.15"/><circle cx="366.5" cy="215.7" r="2.15"/><circle cx="373.5" cy="217.1" r="2.15"/><circle cx="375.6" cy="217.8" r="2.15"/><circle cx="365.8" cy="219.9" r="2.15"/><circle cx="360.3" cy="221.9" r="2.15"/><circle cx="358.2" cy="223.3" r="2.15"/><circle cx="371.4" cy="223.3" r="2.15"/><circle cx="356.8" cy="227.5" r="2.15"/><circle cx="415.8" cy="201.1" r="2.15"/><circle cx="416.8" cy="205.3" r="2.15"/><circle cx="427.9" cy="203.9" r="2.15"/><circle cx="400.1" cy="206.7" r="2.15"/><circle cx="405.7" cy="210.8" r="2.15"/><circle cx="417.5" cy="210.1" r="2.15"/><circle cx="423.8" cy="210.1" r="2.15"/><circle cx="396.0" cy="215.0" r="2.15"/><circle cx="398.0" cy="215.0" r="2.15"/><circle cx="383.5" cy="212.2" r="2.15"/><circle cx="385.6" cy="215.7" r="2.15"/><circle cx="409.9" cy="215.7" r="2.15"/><circle cx="423.0" cy="215.7" r="2.15"/><circle cx="431.4" cy="210.1" r="2.15"/><circle cx="435.6" cy="209.4" r="2.15"/><circle cx="442.1" cy="203.9" r="2.15"/><circle cx="446.2" cy="207.4" r="2.15"/><circle cx="456.0" cy="212.2" r="2.15"/><circle cx="451.8" cy="212.9" r="2.15"/><circle cx="448.3" cy="213.6" r="2.15"/><circle cx="472.2" cy="216.1" r="2.15"/><circle cx="464.3" cy="219.9" r="2.15"/><circle cx="468.5" cy="219.9" r="2.15"/><circle cx="470.6" cy="223.3" r="2.15"/><circle cx="476.1" cy="227.5" r="2.15"/><circle cx="480.3" cy="231.0" r="2.15"/><circle cx="485.8" cy="223.3" r="2.15"/><circle cx="487.9" cy="224.7" r="2.15"/><circle cx="487.2" cy="227.5" r="2.15"/><circle cx="487.9" cy="231.0" r="2.15"/><circle cx="496.2" cy="234.2" r="2.15"/><circle cx="357.5" cy="233.1" r="2.15"/><circle cx="351.7" cy="243.9" r="2.15"/><circle cx="357.2" cy="247.8" r="2.15"/><circle cx="357.2" cy="250.1" r="2.15"/><circle cx="347.5" cy="255.3" r="2.15"/><circle cx="335.3" cy="248.8" r="2.15"/><circle cx="337.4" cy="246.0" r="2.15"/><circle cx="341.5" cy="246.7" r="2.15"/><circle cx="341.5" cy="251.5" r="2.15"/><circle cx="344.3" cy="249.4" r="2.15"/><circle cx="335.3" cy="239.0" r="2.15"/><circle cx="373.5" cy="244.6" r="2.15"/><circle cx="371.4" cy="236.9" r="2.15"/><circle cx="367.2" cy="232.1" r="2.15"/><circle cx="374.2" cy="232.8" r="2.15"/><circle cx="379.0" cy="241.8" r="2.15"/><circle cx="379.7" cy="251.5" r="2.15"/><circle cx="382.1" cy="250.8" r="2.15"/><circle cx="384.2" cy="250.8" r="2.15"/><circle cx="382.8" cy="242.5" r="2.15"/><circle cx="385.6" cy="241.1" r="2.15"/><circle cx="381.4" cy="238.3" r="2.15"/><circle cx="385.6" cy="237.6" r="2.15"/><circle cx="393.6" cy="236.9" r="2.15"/><circle cx="393.6" cy="247.8" r="2.15"/><circle cx="403.6" cy="236.2" r="2.15"/><circle cx="409.9" cy="241.1" r="2.15"/><circle cx="411.9" cy="244.6" r="2.15"/><circle cx="414.0" cy="248.1" r="2.15"/><circle cx="416.8" cy="245.3" r="2.15"/><circle cx="417.5" cy="241.1" r="2.15"/><circle cx="413.3" cy="238.3" r="2.15"/><circle cx="427.9" cy="247.4" r="2.15"/><circle cx="426.1" cy="254.3" r="2.15"/><circle cx="427.9" cy="243.2" r="2.15"/><circle cx="438.3" cy="248.1" r="2.15"/><circle cx="496.2" cy="235.6" r="2.15"/><circle cx="498.3" cy="246.7" r="2.15"/><circle cx="487.9" cy="240.4" r="2.15"/><circle cx="486.5" cy="243.9" r="2.15"/><circle cx="487.2" cy="248.1" r="2.15"/><circle cx="484.4" cy="250.1" r="2.15"/><circle cx="487.2" cy="250.8" r="2.15"/><circle cx="485.8" cy="257.8" r="2.15"/><circle cx="486.5" cy="259.9" r="2.15"/><circle cx="480.3" cy="255.0" r="2.15"/><circle cx="485.8" cy="234.2" r="2.15"/><circle cx="488.6" cy="232.8" r="2.15"/><circle cx="481.7" cy="237.6" r="2.15"/><circle cx="471.9" cy="241.1" r="2.15"/><circle cx="469.9" cy="250.1" r="2.15"/><circle cx="471.9" cy="251.5" r="2.15"/><circle cx="467.8" cy="257.1" r="2.15"/><circle cx="470.3" cy="264.0" r="2.15"/><circle cx="456.0" cy="262.6" r="2.15"/><circle cx="456.0" cy="264.7" r="2.15"/><circle cx="448.3" cy="261.2" r="2.15"/><circle cx="449.7" cy="257.1" r="2.15"/><circle cx="444.2" cy="255.0" r="2.15"/><circle cx="462.2" cy="248.8" r="2.15"/><circle cx="453.9" cy="253.6" r="2.15"/><circle cx="447.9" cy="261.7" r="2.15"/><circle cx="450.2" cy="257.6" r="2.15"/><circle cx="456.0" cy="263.0" r="2.15"/><circle cx="456.0" cy="265.3" r="2.15"/><circle cx="467.8" cy="257.3" r="2.15"/><circle cx="470.1" cy="264.7" r="2.15"/><circle cx="486.2" cy="258.2" r="2.15"/><circle cx="486.2" cy="260.4" r="2.15"/><circle cx="479.8" cy="255.6" r="2.15"/><circle cx="443.8" cy="255.6" r="2.15"/><circle cx="426.4" cy="255.0" r="2.15"/><circle cx="339.6" cy="197.1" r="2.15"/><circle cx="428.1" cy="203.7" r="2.15"/><circle cx="441.8" cy="204.4" r="2.15"/><circle cx="445.2" cy="206.9" r="2.15"/><circle cx="399.5" cy="206.1" r="2.15"/><circle cx="345.7" cy="206.9" r="2.15"/><circle cx="335.7" cy="213.1" r="2.15"/><circle cx="335.6" cy="221.0" r="2.15"/><circle cx="335.6" cy="223.3" r="2.15"/><circle cx="335.8" cy="227.8" r="2.15"/><circle cx="335.6" cy="232.2" r="2.15"/><circle cx="335.8" cy="237.4" r="2.15"/><circle cx="335.7" cy="241.4" r="2.15"/><circle cx="337.8" cy="215.3" r="2.15"/><circle cx="337.6" cy="218.7" r="2.15"/><circle cx="337.8" cy="222.2" r="2.15"/><circle cx="337.7" cy="227.0" r="2.15"/><circle cx="337.6" cy="232.5" r="2.15"/><circle cx="337.6" cy="237.0" r="2.15"/><circle cx="337.6" cy="243.1" r="2.15"/><circle cx="339.8" cy="213.5" r="2.15"/><circle cx="339.7" cy="221.3" r="2.15"/><circle cx="339.8" cy="226.2" r="2.15"/><circle cx="339.6" cy="231.9" r="2.15"/><circle cx="339.8" cy="236.0" r="2.15"/><circle cx="339.8" cy="241.1" r="2.15"/><circle cx="339.6" cy="244.8" r="2.15"/><circle cx="341.7" cy="215.9" r="2.15"/><circle cx="341.7" cy="220.4" r="2.15"/><circle cx="341.7" cy="222.6" r="2.15"/><circle cx="341.6" cy="227.9" r="2.15"/><circle cx="341.6" cy="233.9" r="2.15"/><circle cx="341.6" cy="239.7" r="2.15"/><circle cx="341.6" cy="245.0" r="2.15"/><circle cx="343.8" cy="213.0" r="2.15"/><circle cx="343.7" cy="220.7" r="2.15"/><circle cx="343.6" cy="224.5" r="2.15"/><circle cx="343.9" cy="226.8" r="2.15"/><circle cx="343.8" cy="230.4" r="2.15"/><circle cx="343.9" cy="236.7" r="2.15"/><circle cx="343.7" cy="242.9" r="2.15"/><circle cx="343.6" cy="246.6" r="2.15"/><circle cx="345.6" cy="216.5" r="2.15"/><circle cx="345.9" cy="219.7" r="2.15"/><circle cx="345.7" cy="223.6" r="2.15"/><circle cx="345.7" cy="229.2" r="2.15"/><circle cx="345.9" cy="232.7" r="2.15"/><circle cx="345.7" cy="240.7" r="2.15"/><circle cx="345.6" cy="246.0" r="2.15"/><circle cx="347.8" cy="215.7" r="2.15"/><circle cx="347.8" cy="221.2" r="2.15"/><circle cx="347.9" cy="225.0" r="2.15"/><circle cx="347.7" cy="226.9" r="2.15"/><circle cx="347.8" cy="230.1" r="2.15"/><circle cx="347.7" cy="236.4" r="2.15"/><circle cx="347.9" cy="240.4" r="2.15"/><circle cx="347.7" cy="243.6" r="2.15"/><circle cx="349.9" cy="216.6" r="2.15"/><circle cx="349.6" cy="220.7" r="2.15"/><circle cx="349.7" cy="223.7" r="2.15"/><circle cx="349.6" cy="230.3" r="2.15"/><circle cx="349.8" cy="234.9" r="2.15"/><circle cx="349.8" cy="238.7" r="2.15"/><circle cx="349.6" cy="243.8" r="2.15"/><circle cx="351.9" cy="213.9" r="2.15"/><circle cx="351.8" cy="220.3" r="2.15"/><circle cx="351.6" cy="226.9" r="2.15"/><circle cx="351.6" cy="230.6" r="2.15"/><circle cx="351.8" cy="235.0" r="2.15"/><circle cx="351.8" cy="236.0" r="2.15"/><circle cx="351.6" cy="244.4" r="2.15"/><circle cx="353.9" cy="214.7" r="2.15"/><circle cx="353.7" cy="218.6" r="2.15"/><circle cx="353.9" cy="226.9" r="2.15"/><circle cx="353.9" cy="228.6" r="2.15"/><circle cx="353.8" cy="235.0" r="2.15"/><circle cx="353.9" cy="236.7" r="2.15"/><circle cx="353.7" cy="241.1" r="2.15"/><circle cx="355.6" cy="215.5" r="2.15"/><circle cx="355.9" cy="222.0" r="2.15"/><circle cx="355.7" cy="224.6" r="2.15"/><circle cx="355.8" cy="229.7" r="2.15"/><circle cx="355.8" cy="238.3" r="2.15"/><circle cx="355.7" cy="242.7" r="2.15"/><circle cx="357.8" cy="229.4" r="2.15"/><circle cx="359.8" cy="227.5" r="2.15"/><circle cx="361.9" cy="224.5" r="2.15"/><circle cx="361.7" cy="229.6" r="2.15"/><circle cx="363.9" cy="221.1" r="2.15"/><circle cx="365.9" cy="220.1" r="2.15"/><circle cx="365.8" cy="226.5" r="2.15"/><circle cx="367.9" cy="223.8" r="2.15"/><circle cx="367.8" cy="228.8" r="2.15"/><circle cx="369.7" cy="226.8" r="2.15"/><circle cx="371.9" cy="224.7" r="2.15"/><circle cx="373.9" cy="223.3" r="2.15"/><circle cx="373.8" cy="232.6" r="2.15"/><circle cx="375.9" cy="219.8" r="2.15"/><circle cx="375.9" cy="232.2" r="2.15"/><circle cx="377.8" cy="219.0" r="2.15"/><circle cx="377.8" cy="227.8" r="2.15"/><circle cx="377.8" cy="232.0" r="2.15"/><circle cx="379.8" cy="218.8" r="2.15"/><circle cx="379.7" cy="229.1" r="2.15"/><circle cx="381.8" cy="222.8" r="2.15"/><circle cx="381.8" cy="233.8" r="2.15"/><circle cx="383.8" cy="221.5" r="2.15"/><circle cx="383.9" cy="234.0" r="2.15"/><circle cx="386.0" cy="226.2" r="2.15"/><circle cx="385.8" cy="232.7" r="2.15"/><circle cx="387.9" cy="223.4" r="2.15"/><circle cx="387.8" cy="228.4" r="2.15"/><circle cx="389.9" cy="220.1" r="2.15"/><circle cx="389.9" cy="223.9" r="2.15"/><circle cx="389.8" cy="234.5" r="2.15"/><circle cx="391.8" cy="223.0" r="2.15"/><circle cx="392.0" cy="227.5" r="2.15"/><circle cx="393.9" cy="222.8" r="2.15"/><circle cx="393.8" cy="225.1" r="2.15"/><circle cx="394.0" cy="233.8" r="2.15"/><circle cx="395.8" cy="225.5" r="2.15"/><circle cx="395.8" cy="231.0" r="2.15"/><circle cx="398.0" cy="219.6" r="2.15"/><circle cx="398.0" cy="227.5" r="2.15"/><circle cx="397.9" cy="233.9" r="2.15"/><circle cx="400.0" cy="226.7" r="2.15"/><circle cx="400.0" cy="232.6" r="2.15"/><circle cx="402.0" cy="222.7" r="2.15"/><circle cx="402.0" cy="233.9" r="2.15"/><circle cx="403.9" cy="221.5" r="2.15"/><circle cx="403.8" cy="230.1" r="2.15"/><circle cx="405.8" cy="221.8" r="2.15"/><circle cx="406.0" cy="235.2" r="2.15"/><circle cx="408.0" cy="224.9" r="2.15"/><circle cx="408.1" cy="232.9" r="2.15"/><circle cx="409.9" cy="219.6" r="2.15"/><circle cx="409.9" cy="225.2" r="2.15"/><circle cx="409.9" cy="234.3" r="2.15"/><circle cx="412.0" cy="219.1" r="2.15"/><circle cx="411.9" cy="228.6" r="2.15"/><circle cx="411.9" cy="230.7" r="2.15"/><circle cx="413.9" cy="219.4" r="2.15"/><circle cx="413.9" cy="226.8" r="2.15"/><circle cx="414.0" cy="232.5" r="2.15"/><circle cx="416.0" cy="225.8" r="2.15"/><circle cx="415.9" cy="231.7" r="2.15"/><circle cx="418.1" cy="218.6" r="2.15"/><circle cx="418.1" cy="230.2" r="2.15"/><circle cx="419.9" cy="221.7" r="2.15"/><circle cx="420.1" cy="230.7" r="2.15"/><circle cx="422.1" cy="219.9" r="2.15"/><circle cx="421.9" cy="227.1" r="2.15"/><circle cx="422.1" cy="233.5" r="2.15"/><circle cx="424.2" cy="215.4" r="2.15"/><circle cx="424.2" cy="222.9" r="2.15"/><circle cx="423.9" cy="232.3" r="2.15"/><circle cx="426.1" cy="213.5" r="2.15"/><circle cx="426.1" cy="218.6" r="2.15"/><circle cx="425.9" cy="227.6" r="2.15"/><circle cx="426.2" cy="233.1" r="2.15"/><circle cx="425.9" cy="239.0" r="2.15"/><circle cx="426.2" cy="240.6" r="2.15"/><circle cx="428.0" cy="210.9" r="2.15"/><circle cx="428.1" cy="216.6" r="2.15"/><circle cx="428.1" cy="226.1" r="2.15"/><circle cx="427.9" cy="228.8" r="2.15"/><circle cx="428.0" cy="231.6" r="2.15"/><circle cx="428.0" cy="237.8" r="2.15"/><circle cx="428.1" cy="243.3" r="2.15"/><circle cx="429.9" cy="215.4" r="2.15"/><circle cx="429.9" cy="220.5" r="2.15"/><circle cx="430.1" cy="224.3" r="2.15"/><circle cx="430.0" cy="235.1" r="2.15"/><circle cx="429.9" cy="236.2" r="2.15"/><circle cx="430.0" cy="241.7" r="2.15"/><circle cx="432.0" cy="211.7" r="2.15"/><circle cx="432.0" cy="218.4" r="2.15"/><circle cx="432.1" cy="228.6" r="2.15"/><circle cx="432.0" cy="233.4" r="2.15"/><circle cx="432.0" cy="242.2" r="2.15"/><circle cx="431.9" cy="242.5" r="2.15"/><circle cx="434.1" cy="214.4" r="2.15"/><circle cx="434.1" cy="217.6" r="2.15"/><circle cx="434.2" cy="225.9" r="2.15"/><circle cx="433.9" cy="229.0" r="2.15"/><circle cx="434.2" cy="236.6" r="2.15"/><circle cx="434.2" cy="241.6" r="2.15"/><circle cx="434.1" cy="247.2" r="2.15"/><circle cx="436.0" cy="209.7" r="2.15"/><circle cx="435.9" cy="214.8" r="2.15"/><circle cx="436.0" cy="226.1" r="2.15"/><circle cx="436.1" cy="227.1" r="2.15"/><circle cx="436.1" cy="235.0" r="2.15"/><circle cx="436.1" cy="239.6" r="2.15"/><circle cx="436.1" cy="248.2" r="2.15"/><circle cx="437.9" cy="208.5" r="2.15"/><circle cx="438.1" cy="214.1" r="2.15"/><circle cx="438.1" cy="219.5" r="2.15"/><circle cx="438.2" cy="227.3" r="2.15"/><circle cx="438.0" cy="231.3" r="2.15"/><circle cx="438.1" cy="235.5" r="2.15"/><circle cx="438.2" cy="244.5" r="2.15"/><circle cx="438.0" cy="247.6" r="2.15"/><circle cx="440.1" cy="209.8" r="2.15"/><circle cx="440.2" cy="212.9" r="2.15"/><circle cx="439.9" cy="222.9" r="2.15"/><circle cx="440.2" cy="225.7" r="2.15"/><circle cx="440.2" cy="231.6" r="2.15"/><circle cx="440.1" cy="240.4" r="2.15"/><circle cx="440.1" cy="243.7" r="2.15"/><circle cx="440.1" cy="253.0" r="2.15"/><circle cx="442.0" cy="210.8" r="2.15"/><circle cx="442.0" cy="217.1" r="2.15"/><circle cx="442.0" cy="219.6" r="2.15"/><circle cx="442.1" cy="227.3" r="2.15"/><circle cx="442.1" cy="235.1" r="2.15"/><circle cx="442.2" cy="238.6" r="2.15"/><circle cx="442.1" cy="242.9" r="2.15"/><circle cx="441.9" cy="250.2" r="2.15"/><circle cx="444.0" cy="207.7" r="2.15"/><circle cx="444.0" cy="216.8" r="2.15"/><circle cx="444.1" cy="224.4" r="2.15"/><circle cx="444.0" cy="230.6" r="2.15"/><circle cx="444.1" cy="231.3" r="2.15"/><circle cx="444.2" cy="238.6" r="2.15"/><circle cx="444.0" cy="249.0" r="2.15"/><circle cx="444.1" cy="254.2" r="2.15"/><circle cx="446.1" cy="212.9" r="2.15"/><circle cx="446.1" cy="216.9" r="2.15"/><circle cx="445.9" cy="221.1" r="2.15"/><circle cx="446.1" cy="230.1" r="2.15"/><circle cx="446.1" cy="231.6" r="2.15"/><circle cx="446.1" cy="243.0" r="2.15"/><circle cx="446.2" cy="245.4" r="2.15"/><circle cx="446.0" cy="249.2" r="2.15"/><circle cx="448.1" cy="213.3" r="2.15"/><circle cx="448.2" cy="219.4" r="2.15"/><circle cx="448.0" cy="226.5" r="2.15"/><circle cx="448.0" cy="229.8" r="2.15"/><circle cx="448.1" cy="235.2" r="2.15"/><circle cx="448.1" cy="247.3" r="2.15"/><circle cx="448.0" cy="248.5" r="2.15"/><circle cx="450.2" cy="210.8" r="2.15"/><circle cx="450.2" cy="219.9" r="2.15"/><circle cx="450.2" cy="225.7" r="2.15"/><circle cx="450.1" cy="230.3" r="2.15"/><circle cx="450.0" cy="234.3" r="2.15"/><circle cx="450.1" cy="239.0" r="2.15"/><circle cx="450.0" cy="246.9" r="2.15"/><circle cx="450.1" cy="253.8" r="2.15"/><circle cx="452.0" cy="212.1" r="2.15"/><circle cx="452.1" cy="222.2" r="2.15"/><circle cx="452.2" cy="223.2" r="2.15"/><circle cx="452.2" cy="234.4" r="2.15"/><circle cx="452.0" cy="237.8" r="2.15"/><circle cx="452.0" cy="241.4" r="2.15"/><circle cx="452.1" cy="247.4" r="2.15"/><circle cx="454.1" cy="212.5" r="2.15"/><circle cx="454.2" cy="218.8" r="2.15"/><circle cx="454.1" cy="229.1" r="2.15"/><circle cx="454.1" cy="233.3" r="2.15"/><circle cx="454.0" cy="236.6" r="2.15"/><circle cx="454.2" cy="242.2" r="2.15"/><circle cx="454.1" cy="248.4" r="2.15"/><circle cx="456.1" cy="217.4" r="2.15"/><circle cx="456.1" cy="222.5" r="2.15"/><circle cx="456.2" cy="226.9" r="2.15"/><circle cx="456.0" cy="231.0" r="2.15"/><circle cx="456.1" cy="239.9" r="2.15"/><circle cx="456.1" cy="242.6" r="2.15"/><circle cx="456.2" cy="249.6" r="2.15"/><circle cx="458.0" cy="219.9" r="2.15"/><circle cx="458.2" cy="226.1" r="2.15"/><circle cx="458.1" cy="231.8" r="2.15"/><circle cx="458.3" cy="238.3" r="2.15"/><circle cx="458.2" cy="243.9" r="2.15"/><circle cx="458.1" cy="247.4" r="2.15"/><circle cx="460.1" cy="219.7" r="2.15"/><circle cx="460.0" cy="226.1" r="2.15"/><circle cx="460.0" cy="228.7" r="2.15"/><circle cx="460.3" cy="238.3" r="2.15"/><circle cx="460.2" cy="243.2" r="2.15"/><circle cx="460.2" cy="246.1" r="2.15"/><circle cx="462.3" cy="217.7" r="2.15"/><circle cx="462.2" cy="227.6" r="2.15"/><circle cx="462.0" cy="230.6" r="2.15"/><circle cx="462.2" cy="237.6" r="2.15"/><circle cx="462.3" cy="243.3" r="2.15"/><circle cx="464.0" cy="219.1" r="2.15"/><circle cx="464.2" cy="228.9" r="2.15"/><circle cx="464.0" cy="239.3" r="2.15"/><circle cx="464.0" cy="244.3" r="2.15"/><circle cx="466.2" cy="226.0" r="2.15"/><circle cx="466.2" cy="229.8" r="2.15"/><circle cx="466.2" cy="232.4" r="2.15"/><circle cx="466.2" cy="239.8" r="2.15"/><circle cx="468.0" cy="223.9" r="2.15"/><circle cx="468.0" cy="228.6" r="2.15"/><circle cx="468.0" cy="234.3" r="2.15"/><circle cx="468.3" cy="237.9" r="2.15"/><circle cx="470.1" cy="226.7" r="2.15"/><circle cx="470.2" cy="232.2" r="2.15"/><circle cx="470.1" cy="235.5" r="2.15"/><circle cx="472.3" cy="230.7" r="2.15"/><circle cx="472.3" cy="238.3" r="2.15"/><circle cx="474.2" cy="232.0" r="2.15"/><circle cx="474.1" cy="233.6" r="2.15"/><circle cx="476.3" cy="232.6" r="2.15"/></g>
<g fill="#fff" stroke="#000" stroke-width="0.95"><circle cx="603.1" cy="192.8" r="2.15"/><circle cx="608.7" cy="202.8" r="2.15"/><circle cx="598.6" cy="203.9" r="2.15"/><circle cx="601.1" cy="205.3" r="2.15"/><circle cx="603.8" cy="208.1" r="2.15"/><circle cx="610.8" cy="208.8" r="2.15"/><circle cx="615.6" cy="206.7" r="2.15"/><circle cx="617.7" cy="210.1" r="2.15"/><circle cx="628.8" cy="212.9" r="2.15"/><circle cx="627.4" cy="217.1" r="2.15"/><circle cx="624.7" cy="217.8" r="2.15"/><circle cx="622.6" cy="219.9" r="2.15"/><circle cx="621.2" cy="223.3" r="2.15"/><circle cx="638.6" cy="214.3" r="2.15"/><circle cx="636.5" cy="215.7" r="2.15"/><circle cx="635.1" cy="219.9" r="2.15"/><circle cx="630.9" cy="221.2" r="2.15"/><circle cx="637.9" cy="224.7" r="2.15"/><circle cx="630.9" cy="227.5" r="2.15"/><circle cx="637.2" cy="230.3" r="2.15"/><circle cx="620.5" cy="229.6" r="2.15"/><circle cx="679.1" cy="196.9" r="2.15"/><circle cx="691.3" cy="198.3" r="2.15"/><circle cx="679.4" cy="201.1" r="2.15"/><circle cx="681.6" cy="205.3" r="2.15"/><circle cx="663.6" cy="202.2" r="2.15"/><circle cx="661.1" cy="206.7" r="2.15"/><circle cx="669.4" cy="206.7" r="2.15"/><circle cx="647.2" cy="208.1" r="2.15"/><circle cx="687.4" cy="207.4" r="2.15"/><circle cx="695.8" cy="206.0" r="2.15"/><circle cx="700.0" cy="204.6" r="2.15"/><circle cx="659.0" cy="212.9" r="2.15"/><circle cx="673.6" cy="211.5" r="2.15"/><circle cx="649.2" cy="212.2" r="2.15"/><circle cx="705.1" cy="200.4" r="2.15"/><circle cx="709.2" cy="203.2" r="2.15"/><circle cx="711.3" cy="210.1" r="2.15"/><circle cx="716.2" cy="209.4" r="2.15"/><circle cx="719.7" cy="209.4" r="2.15"/><circle cx="735.6" cy="211.9" r="2.15"/><circle cx="727.3" cy="216.4" r="2.15"/><circle cx="732.2" cy="217.1" r="2.15"/><circle cx="733.6" cy="219.2" r="2.15"/><circle cx="751.6" cy="218.5" r="2.15"/><circle cx="748.8" cy="221.2" r="2.15"/><circle cx="750.9" cy="224.0" r="2.15"/><circle cx="739.1" cy="224.0" r="2.15"/><circle cx="737.0" cy="227.5" r="2.15"/><circle cx="744.0" cy="227.5" r="2.15"/><circle cx="750.2" cy="229.6" r="2.15"/><circle cx="759.9" cy="231.4" r="2.15"/><circle cx="735.6" cy="231.7" r="2.15"/><circle cx="599.0" cy="245.3" r="2.15"/><circle cx="601.1" cy="243.9" r="2.15"/><circle cx="604.5" cy="242.5" r="2.15"/><circle cx="604.5" cy="245.3" r="2.15"/><circle cx="605.2" cy="248.1" r="2.15"/><circle cx="607.3" cy="247.4" r="2.15"/><circle cx="615.2" cy="241.1" r="2.15"/><circle cx="621.2" cy="244.6" r="2.15"/><circle cx="621.2" cy="246.7" r="2.15"/><circle cx="611.5" cy="253.3" r="2.15"/><circle cx="637.2" cy="241.8" r="2.15"/><circle cx="635.1" cy="233.5" r="2.15"/><circle cx="637.2" cy="231.4" r="2.15"/><circle cx="642.0" cy="236.9" r="2.15"/><circle cx="645.1" cy="235.6" r="2.15"/><circle cx="649.2" cy="239.0" r="2.15"/><circle cx="645.8" cy="240.4" r="2.15"/><circle cx="645.8" cy="248.8" r="2.15"/><circle cx="647.9" cy="248.8" r="2.15"/><circle cx="657.6" cy="234.9" r="2.15"/><circle cx="657.6" cy="244.6" r="2.15"/><circle cx="667.3" cy="233.5" r="2.15"/><circle cx="672.9" cy="239.0" r="2.15"/><circle cx="675.6" cy="241.8" r="2.15"/><circle cx="677.7" cy="246.4" r="2.15"/><circle cx="681.9" cy="242.5" r="2.15"/><circle cx="684.7" cy="236.9" r="2.15"/><circle cx="691.6" cy="239.7" r="2.15"/><circle cx="691.6" cy="244.6" r="2.15"/><circle cx="689.5" cy="251.5" r="2.15"/><circle cx="701.3" cy="245.3" r="2.15"/><circle cx="759.9" cy="231.4" r="2.15"/><circle cx="762.0" cy="241.1" r="2.15"/><circle cx="750.2" cy="239.0" r="2.15"/><circle cx="750.2" cy="246.0" r="2.15"/><circle cx="748.1" cy="248.1" r="2.15"/><circle cx="744.0" cy="252.2" r="2.15"/><circle cx="750.2" cy="255.7" r="2.15"/><circle cx="750.2" cy="257.8" r="2.15"/><circle cx="733.6" cy="247.4" r="2.15"/><circle cx="735.6" cy="248.8" r="2.15"/><circle cx="731.5" cy="254.3" r="2.15"/><circle cx="733.8" cy="260.8" r="2.15"/><circle cx="719.7" cy="260.6" r="2.15"/><circle cx="711.3" cy="258.5" r="2.15"/><circle cx="707.2" cy="252.9" r="2.15"/><circle cx="713.4" cy="254.3" r="2.15"/><circle cx="718.3" cy="250.8" r="2.15"/><circle cx="725.2" cy="246.0" r="2.15"/><circle cx="735.6" cy="239.0" r="2.15"/><circle cx="745.4" cy="234.9" r="2.15"/><circle cx="750.9" cy="234.9" r="2.15"/><circle cx="599.1" cy="211.2" r="2.15"/><circle cx="599.0" cy="215.7" r="2.15"/><circle cx="599.2" cy="219.2" r="2.15"/><circle cx="599.1" cy="225.7" r="2.15"/><circle cx="599.0" cy="227.2" r="2.15"/><circle cx="599.1" cy="233.2" r="2.15"/><circle cx="599.1" cy="237.9" r="2.15"/><circle cx="601.2" cy="214.1" r="2.15"/><circle cx="601.0" cy="217.2" r="2.15"/><circle cx="601.0" cy="220.2" r="2.15"/><circle cx="601.0" cy="223.8" r="2.15"/><circle cx="601.2" cy="231.6" r="2.15"/><circle cx="601.0" cy="234.4" r="2.15"/><circle cx="601.0" cy="239.7" r="2.15"/><circle cx="603.2" cy="211.9" r="2.15"/><circle cx="603.1" cy="217.1" r="2.15"/><circle cx="603.2" cy="223.0" r="2.15"/><circle cx="603.2" cy="225.7" r="2.15"/><circle cx="603.1" cy="228.8" r="2.15"/><circle cx="603.1" cy="233.6" r="2.15"/><circle cx="603.1" cy="237.7" r="2.15"/><circle cx="605.0" cy="213.8" r="2.15"/><circle cx="605.3" cy="214.8" r="2.15"/><circle cx="605.1" cy="218.7" r="2.15"/><circle cx="605.0" cy="227.1" r="2.15"/><circle cx="605.0" cy="230.2" r="2.15"/><circle cx="605.2" cy="232.6" r="2.15"/><circle cx="605.2" cy="238.3" r="2.15"/><circle cx="607.2" cy="211.4" r="2.15"/><circle cx="607.1" cy="215.7" r="2.15"/><circle cx="607.1" cy="219.1" r="2.15"/><circle cx="607.0" cy="224.5" r="2.15"/><circle cx="607.2" cy="230.3" r="2.15"/><circle cx="607.2" cy="232.6" r="2.15"/><circle cx="607.1" cy="240.5" r="2.15"/><circle cx="609.2" cy="210.6" r="2.15"/><circle cx="609.2" cy="215.8" r="2.15"/><circle cx="609.2" cy="222.0" r="2.15"/><circle cx="609.2" cy="226.4" r="2.15"/><circle cx="609.1" cy="229.4" r="2.15"/><circle cx="609.3" cy="231.6" r="2.15"/><circle cx="609.2" cy="238.9" r="2.15"/><circle cx="611.0" cy="210.2" r="2.15"/><circle cx="611.2" cy="216.5" r="2.15"/><circle cx="611.2" cy="220.6" r="2.15"/><circle cx="611.1" cy="225.5" r="2.15"/><circle cx="611.2" cy="229.5" r="2.15"/><circle cx="611.1" cy="231.4" r="2.15"/><circle cx="611.1" cy="236.2" r="2.15"/><circle cx="613.3" cy="212.6" r="2.15"/><circle cx="613.1" cy="218.0" r="2.15"/><circle cx="613.3" cy="221.3" r="2.15"/><circle cx="613.0" cy="225.7" r="2.15"/><circle cx="613.1" cy="228.6" r="2.15"/><circle cx="613.3" cy="232.1" r="2.15"/><circle cx="613.0" cy="237.2" r="2.15"/><circle cx="615.1" cy="213.1" r="2.15"/><circle cx="615.2" cy="214.8" r="2.15"/><circle cx="615.1" cy="221.1" r="2.15"/><circle cx="615.1" cy="222.6" r="2.15"/><circle cx="615.2" cy="226.5" r="2.15"/><circle cx="615.0" cy="231.9" r="2.15"/><circle cx="615.0" cy="237.6" r="2.15"/><circle cx="617.1" cy="211.1" r="2.15"/><circle cx="617.3" cy="216.3" r="2.15"/><circle cx="617.2" cy="220.7" r="2.15"/><circle cx="617.2" cy="222.6" r="2.15"/><circle cx="617.3" cy="228.9" r="2.15"/><circle cx="617.2" cy="231.3" r="2.15"/><circle cx="617.3" cy="235.5" r="2.15"/><circle cx="619.2" cy="216.5" r="2.15"/><circle cx="619.3" cy="219.7" r="2.15"/><circle cx="619.1" cy="222.3" r="2.15"/><circle cx="619.1" cy="227.4" r="2.15"/><circle cx="619.1" cy="230.5" r="2.15"/><circle cx="621.1" cy="221.8" r="2.15"/><circle cx="623.1" cy="226.4" r="2.15"/><circle cx="623.1" cy="231.0" r="2.15"/><circle cx="625.3" cy="221.2" r="2.15"/><circle cx="625.2" cy="227.1" r="2.15"/><circle cx="627.3" cy="217.1" r="2.15"/><circle cx="627.2" cy="228.7" r="2.15"/><circle cx="629.1" cy="216.9" r="2.15"/><circle cx="629.3" cy="226.2" r="2.15"/><circle cx="629.1" cy="232.0" r="2.15"/><circle cx="631.3" cy="222.8" r="2.15"/><circle cx="631.1" cy="232.7" r="2.15"/><circle cx="633.2" cy="217.0" r="2.15"/><circle cx="633.3" cy="231.7" r="2.15"/><circle cx="635.1" cy="217.4" r="2.15"/><circle cx="635.2" cy="226.6" r="2.15"/><circle cx="635.3" cy="232.3" r="2.15"/><circle cx="637.3" cy="216.6" r="2.15"/><circle cx="637.2" cy="226.1" r="2.15"/><circle cx="639.2" cy="222.0" r="2.15"/><circle cx="639.3" cy="228.3" r="2.15"/><circle cx="639.2" cy="234.3" r="2.15"/><circle cx="641.3" cy="219.1" r="2.15"/><circle cx="641.3" cy="228.0" r="2.15"/><circle cx="641.1" cy="231.1" r="2.15"/><circle cx="643.4" cy="222.4" r="2.15"/><circle cx="643.2" cy="226.3" r="2.15"/><circle cx="645.4" cy="223.1" r="2.15"/><circle cx="645.3" cy="226.4" r="2.15"/><circle cx="647.3" cy="217.8" r="2.15"/><circle cx="647.1" cy="222.0" r="2.15"/><circle cx="647.3" cy="234.4" r="2.15"/><circle cx="649.4" cy="219.4" r="2.15"/><circle cx="649.3" cy="228.8" r="2.15"/><circle cx="649.3" cy="231.4" r="2.15"/><circle cx="651.3" cy="215.7" r="2.15"/><circle cx="651.4" cy="224.5" r="2.15"/><circle cx="651.2" cy="233.2" r="2.15"/><circle cx="653.4" cy="219.8" r="2.15"/><circle cx="653.2" cy="224.5" r="2.15"/><circle cx="653.1" cy="229.4" r="2.15"/><circle cx="655.4" cy="219.5" r="2.15"/><circle cx="655.4" cy="222.7" r="2.15"/><circle cx="655.3" cy="230.8" r="2.15"/><circle cx="657.4" cy="215.3" r="2.15"/><circle cx="657.3" cy="233.6" r="2.15"/><circle cx="659.5" cy="218.9" r="2.15"/><circle cx="659.5" cy="226.5" r="2.15"/><circle cx="659.4" cy="229.9" r="2.15"/><circle cx="661.3" cy="216.5" r="2.15"/><circle cx="661.4" cy="226.3" r="2.15"/><circle cx="661.2" cy="230.7" r="2.15"/><circle cx="663.4" cy="216.1" r="2.15"/><circle cx="663.5" cy="231.8" r="2.15"/><circle cx="665.5" cy="220.4" r="2.15"/><circle cx="665.3" cy="228.3" r="2.15"/><circle cx="665.2" cy="229.3" r="2.15"/><circle cx="667.3" cy="217.3" r="2.15"/><circle cx="667.2" cy="224.4" r="2.15"/><circle cx="667.3" cy="233.2" r="2.15"/><circle cx="669.4" cy="219.9" r="2.15"/><circle cx="669.4" cy="225.4" r="2.15"/><circle cx="669.2" cy="232.4" r="2.15"/><circle cx="671.5" cy="215.4" r="2.15"/><circle cx="671.5" cy="224.3" r="2.15"/><circle cx="671.3" cy="233.7" r="2.15"/><circle cx="673.3" cy="215.2" r="2.15"/><circle cx="673.4" cy="226.0" r="2.15"/><circle cx="673.4" cy="231.9" r="2.15"/><circle cx="675.3" cy="219.2" r="2.15"/><circle cx="675.3" cy="225.7" r="2.15"/><circle cx="675.3" cy="231.1" r="2.15"/><circle cx="677.4" cy="220.3" r="2.15"/><circle cx="677.4" cy="220.9" r="2.15"/><circle cx="677.4" cy="237.4" r="2.15"/><circle cx="679.4" cy="217.2" r="2.15"/><circle cx="679.4" cy="226.6" r="2.15"/><circle cx="679.3" cy="230.6" r="2.15"/><circle cx="681.5" cy="213.1" r="2.15"/><circle cx="681.3" cy="227.8" r="2.15"/><circle cx="681.2" cy="233.7" r="2.15"/><circle cx="683.5" cy="214.8" r="2.15"/><circle cx="683.5" cy="220.4" r="2.15"/><circle cx="683.3" cy="229.5" r="2.15"/><circle cx="683.4" cy="232.0" r="2.15"/><circle cx="685.5" cy="210.6" r="2.15"/><circle cx="685.4" cy="227.8" r="2.15"/><circle cx="685.4" cy="237.5" r="2.15"/><circle cx="687.5" cy="210.6" r="2.15"/><circle cx="687.3" cy="222.3" r="2.15"/><circle cx="687.6" cy="227.1" r="2.15"/><circle cx="687.4" cy="232.1" r="2.15"/><circle cx="689.4" cy="207.9" r="2.15"/><circle cx="689.3" cy="214.6" r="2.15"/><circle cx="689.4" cy="220.4" r="2.15"/><circle cx="689.5" cy="225.0" r="2.15"/><circle cx="689.5" cy="232.2" r="2.15"/><circle cx="689.4" cy="236.3" r="2.15"/><circle cx="691.6" cy="210.6" r="2.15"/><circle cx="691.5" cy="213.5" r="2.15"/><circle cx="691.5" cy="220.8" r="2.15"/><circle cx="691.4" cy="222.8" r="2.15"/><circle cx="691.3" cy="230.5" r="2.15"/><circle cx="691.4" cy="231.5" r="2.15"/><circle cx="691.3" cy="236.2" r="2.15"/><circle cx="693.4" cy="208.3" r="2.15"/><circle cx="693.4" cy="213.6" r="2.15"/><circle cx="693.3" cy="218.5" r="2.15"/><circle cx="693.6" cy="223.3" r="2.15"/><circle cx="693.3" cy="230.1" r="2.15"/><circle cx="693.5" cy="234.6" r="2.15"/><circle cx="693.4" cy="241.5" r="2.15"/><circle cx="695.3" cy="209.6" r="2.15"/><circle cx="695.5" cy="213.4" r="2.15"/><circle cx="695.5" cy="220.2" r="2.15"/><circle cx="695.6" cy="223.8" r="2.15"/><circle cx="695.5" cy="229.0" r="2.15"/><circle cx="695.3" cy="232.9" r="2.15"/><circle cx="695.4" cy="240.7" r="2.15"/><circle cx="697.4" cy="205.6" r="2.15"/><circle cx="697.5" cy="212.1" r="2.15"/><circle cx="697.4" cy="217.4" r="2.15"/><circle cx="697.6" cy="220.6" r="2.15"/><circle cx="697.4" cy="223.7" r="2.15"/><circle cx="697.6" cy="231.8" r="2.15"/><circle cx="697.4" cy="234.3" r="2.15"/><circle cx="697.5" cy="241.1" r="2.15"/><circle cx="699.6" cy="206.9" r="2.15"/><circle cx="699.5" cy="209.7" r="2.15"/><circle cx="699.4" cy="215.1" r="2.15"/><circle cx="699.5" cy="221.9" r="2.15"/><circle cx="699.4" cy="227.3" r="2.15"/><circle cx="699.3" cy="233.3" r="2.15"/><circle cx="699.6" cy="237.2" r="2.15"/><circle cx="699.6" cy="244.5" r="2.15"/><circle cx="701.5" cy="203.6" r="2.15"/><circle cx="701.5" cy="207.8" r="2.15"/><circle cx="701.4" cy="214.4" r="2.15"/><circle cx="701.4" cy="223.7" r="2.15"/><circle cx="701.3" cy="228.2" r="2.15"/><circle cx="701.3" cy="230.9" r="2.15"/><circle cx="701.5" cy="239.4" r="2.15"/><circle cx="701.4" cy="244.1" r="2.15"/><circle cx="703.6" cy="206.4" r="2.15"/><circle cx="703.5" cy="209.9" r="2.15"/><circle cx="703.5" cy="213.2" r="2.15"/><circle cx="703.4" cy="219.8" r="2.15"/><circle cx="703.4" cy="226.2" r="2.15"/><circle cx="703.6" cy="231.8" r="2.15"/><circle cx="703.5" cy="240.7" r="2.15"/><circle cx="703.5" cy="246.2" r="2.15"/><circle cx="705.4" cy="208.0" r="2.15"/><circle cx="705.5" cy="210.2" r="2.15"/><circle cx="705.6" cy="215.9" r="2.15"/><circle cx="705.4" cy="220.5" r="2.15"/><circle cx="705.3" cy="227.9" r="2.15"/><circle cx="705.3" cy="235.8" r="2.15"/><circle cx="705.5" cy="238.4" r="2.15"/><circle cx="705.5" cy="249.0" r="2.15"/><circle cx="707.4" cy="208.8" r="2.15"/><circle cx="707.6" cy="211.4" r="2.15"/><circle cx="707.6" cy="219.1" r="2.15"/><circle cx="707.5" cy="225.2" r="2.15"/><circle cx="707.4" cy="230.1" r="2.15"/><circle cx="707.4" cy="237.8" r="2.15"/><circle cx="707.4" cy="239.4" r="2.15"/><circle cx="707.5" cy="249.3" r="2.15"/><circle cx="709.4" cy="210.5" r="2.15"/><circle cx="709.5" cy="214.4" r="2.15"/><circle cx="709.5" cy="218.2" r="2.15"/><circle cx="709.6" cy="227.7" r="2.15"/><circle cx="709.4" cy="229.9" r="2.15"/><circle cx="709.5" cy="235.9" r="2.15"/><circle cx="709.4" cy="242.9" r="2.15"/><circle cx="709.6" cy="248.9" r="2.15"/><circle cx="711.5" cy="211.1" r="2.15"/><circle cx="711.6" cy="214.2" r="2.15"/><circle cx="711.4" cy="222.0" r="2.15"/><circle cx="711.4" cy="227.1" r="2.15"/><circle cx="711.5" cy="231.4" r="2.15"/><circle cx="711.5" cy="238.4" r="2.15"/><circle cx="711.4" cy="241.4" r="2.15"/><circle cx="711.5" cy="249.9" r="2.15"/><circle cx="713.4" cy="212.0" r="2.15"/><circle cx="713.5" cy="215.6" r="2.15"/><circle cx="713.5" cy="220.8" r="2.15"/><circle cx="713.6" cy="226.5" r="2.15"/><circle cx="713.4" cy="233.4" r="2.15"/><circle cx="713.6" cy="238.9" r="2.15"/><circle cx="713.6" cy="242.3" r="2.15"/><circle cx="713.4" cy="248.2" r="2.15"/><circle cx="715.6" cy="211.8" r="2.15"/><circle cx="715.6" cy="214.2" r="2.15"/><circle cx="715.5" cy="221.5" r="2.15"/><circle cx="715.5" cy="225.4" r="2.15"/><circle cx="715.5" cy="234.2" r="2.15"/><circle cx="715.5" cy="236.0" r="2.15"/><circle cx="715.5" cy="241.0" r="2.15"/><circle cx="715.6" cy="247.3" r="2.15"/><circle cx="717.4" cy="211.2" r="2.15"/><circle cx="717.5" cy="217.7" r="2.15"/><circle cx="717.5" cy="221.2" r="2.15"/><circle cx="717.5" cy="229.0" r="2.15"/><circle cx="717.5" cy="236.2" r="2.15"/><circle cx="717.6" cy="242.0" r="2.15"/><circle cx="717.4" cy="244.8" r="2.15"/><circle cx="719.6" cy="210.1" r="2.15"/><circle cx="719.6" cy="218.6" r="2.15"/><circle cx="719.6" cy="222.5" r="2.15"/><circle cx="719.4" cy="228.7" r="2.15"/><circle cx="719.4" cy="237.1" r="2.15"/><circle cx="719.5" cy="242.8" r="2.15"/><circle cx="719.4" cy="248.6" r="2.15"/><circle cx="721.4" cy="212.9" r="2.15"/><circle cx="721.6" cy="220.0" r="2.15"/><circle cx="721.4" cy="221.8" r="2.15"/><circle cx="721.5" cy="226.4" r="2.15"/><circle cx="721.7" cy="233.9" r="2.15"/><circle cx="721.5" cy="241.2" r="2.15"/><circle cx="721.5" cy="245.2" r="2.15"/><circle cx="723.5" cy="216.2" r="2.15"/><circle cx="723.7" cy="222.8" r="2.15"/><circle cx="723.6" cy="225.3" r="2.15"/><circle cx="723.7" cy="234.4" r="2.15"/><circle cx="723.6" cy="236.9" r="2.15"/><circle cx="723.6" cy="242.4" r="2.15"/><circle cx="725.7" cy="216.4" r="2.15"/><circle cx="725.5" cy="218.9" r="2.15"/><circle cx="725.7" cy="225.1" r="2.15"/><circle cx="725.7" cy="234.1" r="2.15"/><circle cx="725.5" cy="235.6" r="2.15"/><circle cx="725.6" cy="243.0" r="2.15"/><circle cx="727.6" cy="216.0" r="2.15"/><circle cx="727.6" cy="226.3" r="2.15"/><circle cx="727.5" cy="232.1" r="2.15"/><circle cx="727.7" cy="237.7" r="2.15"/><circle cx="727.6" cy="239.4" r="2.15"/><circle cx="729.6" cy="218.9" r="2.15"/><circle cx="729.6" cy="222.8" r="2.15"/><circle cx="729.4" cy="229.9" r="2.15"/><circle cx="729.6" cy="236.8" r="2.15"/><circle cx="729.4" cy="238.5" r="2.15"/><circle cx="731.6" cy="221.4" r="2.15"/><circle cx="731.5" cy="228.4" r="2.15"/><circle cx="731.5" cy="230.1" r="2.15"/><circle cx="731.6" cy="236.5" r="2.15"/><circle cx="733.4" cy="226.6" r="2.15"/><circle cx="733.6" cy="229.5" r="2.15"/><circle cx="733.7" cy="233.6" r="2.15"/><circle cx="735.7" cy="230.5" r="2.15"/></g>
<path d="M60.9,72.5 L65.6,71.3 L70.2,70.1 L74.9,69.1 L79.5,68.1 L84.2,67.2 L88.8,66.5 L93.5,65.8 L98.1,65.2 L102.8,64.8 L107.4,64.4 L112.1,64.1 L116.7,63.9 L121.4,63.8 L126.0,63.8 L130.7,63.9 L135.3,64.1 L140.0,64.4 L144.6,64.7 L149.3,65.2 L153.9,65.8 L158.6,66.4 L163.2,67.2 L167.9,68.1 L172.5,69.0 L177.2,70.1 L181.8,71.2 L186.5,72.4 L191.1,73.8 L195.8,75.2 L200.4,76.7 L205.1,78.3 L209.7,80.0 L214.4,81.9 L219.0,83.8 L223.7,85.8 L228.3,87.8 L233.0,90.0 L237.6,92.3 L242.3,94.7" fill="none" stroke="#fff" stroke-width="1.0" stroke-opacity="0.6" stroke-dasharray="1.1,1.3" stroke-dashoffset="-1.3"/>
<path d="M60.9,72.5 L65.6,71.3 L70.2,70.1 L74.9,69.1 L79.5,68.1 L84.2,67.2 L88.8,66.5 L93.5,65.8 L98.1,65.2 L102.8,64.8 L107.4,64.4 L112.1,64.1 L116.7,63.9 L121.4,63.8 L126.0,63.8 L130.7,63.9 L135.3,64.1 L140.0,64.4 L144.6,64.7 L149.3,65.2 L153.9,65.8 L158.6,66.4 L163.2,67.2 L167.9,68.1 L172.5,69.0 L177.2,70.1 L181.8,71.2 L186.5,72.4 L191.1,73.8 L195.8,75.2 L200.4,76.7 L205.1,78.3 L209.7,80.0 L214.4,81.9 L219.0,83.8 L223.7,85.8 L228.3,87.8 L233.0,90.0 L237.6,92.3 L242.3,94.7" fill="none" stroke="#000" stroke-width="1.3" stroke-dasharray="1.3,1.1"/>
<path d="M324.8,84.8 L329.4,83.4 L334.0,82.2 L338.6,81.0 L343.2,80.0 L347.8,79.1 L352.4,78.2 L357.0,77.5 L361.6,76.9 L366.2,76.4 L370.8,76.0 L375.4,75.8 L380.0,75.6 L384.6,75.5 L389.2,75.6 L393.8,75.8 L398.4,76.0 L403.0,76.4 L407.6,76.9 L412.2,77.5 L416.8,78.2 L421.4,79.0 L426.0,80.0 L430.6,81.0 L435.2,82.2 L439.8,83.4 L444.4,84.8 L449.0,86.3 L453.6,87.8 L458.2,89.5 L462.8,91.3 L467.4,93.3 L472.0,95.3 L476.6,97.4 L481.2,99.7 L485.8,102.0 L490.4,104.5 L495.0,107.0 L499.6,109.7 L504.2,112.5" fill="none" stroke="#fff" stroke-width="1.0" stroke-opacity="0.6" stroke-dasharray="1.1,1.3" stroke-dashoffset="-1.3"/>
<path d="M324.8,84.8 L329.4,83.4 L334.0,82.2 L338.6,81.0 L343.2,80.0 L347.8,79.1 L352.4,78.2 L357.0,77.5 L361.6,76.9 L366.2,76.4 L370.8,76.0 L375.4,75.8 L380.0,75.6 L384.6,75.5 L389.2,75.6 L393.8,75.8 L398.4,76.0 L403.0,76.4 L407.6,76.9 L412.2,77.5 L416.8,78.2 L421.4,79.0 L426.0,80.0 L430.6,81.0 L435.2,82.2 L439.8,83.4 L444.4,84.8 L449.0,86.3 L453.6,87.8 L458.2,89.5 L462.8,91.3 L467.4,93.3 L472.0,95.3 L476.6,97.4 L481.2,99.7 L485.8,102.0 L490.4,104.5 L495.0,107.0 L499.6,109.7 L504.2,112.5" fill="none" stroke="#000" stroke-width="1.3" stroke-dasharray="1.3,1.1"/>
<path d="M588.4,81.2 L593.1,80.0 L597.7,78.8 L602.4,77.7 L607.0,76.7 L611.7,75.8 L616.3,75.1 L621.0,74.4 L625.7,73.9 L630.3,73.4 L635.0,73.1 L639.6,72.8 L644.3,72.7 L648.9,72.7 L653.6,72.8 L658.2,73.0 L662.9,73.3 L667.6,73.7 L672.2,74.2 L676.9,74.8 L681.5,75.5 L686.2,76.3 L690.8,77.3 L695.5,78.3 L700.2,79.5 L704.8,80.7 L709.5,82.1 L714.1,83.6 L718.8,85.1 L723.4,86.8 L728.1,88.6 L732.7,90.5 L737.4,92.5 L742.1,94.6 L746.7,96.8 L751.4,99.1 L756.0,101.5 L760.7,104.0 L765.3,106.7 L770.0,109.4" fill="none" stroke="#fff" stroke-width="1.0" stroke-opacity="0.6" stroke-dasharray="1.1,1.3" stroke-dashoffset="-1.3"/>
<path d="M588.4,81.2 L593.1,80.0 L597.7,78.8 L602.4,77.7 L607.0,76.7 L611.7,75.8 L616.3,75.1 L621.0,74.4 L625.7,73.9 L630.3,73.4 L635.0,73.1 L639.6,72.8 L644.3,72.7 L648.9,72.7 L653.6,72.8 L658.2,73.0 L662.9,73.3 L667.6,73.7 L672.2,74.2 L676.9,74.8 L681.5,75.5 L686.2,76.3 L690.8,77.3 L695.5,78.3 L700.2,79.5 L704.8,80.7 L709.5,82.1 L714.1,83.6 L718.8,85.1 L723.4,86.8 L728.1,88.6 L732.7,90.5 L737.4,92.5 L742.1,94.6 L746.7,96.8 L751.4,99.1 L756.0,101.5 L760.7,104.0 L765.3,106.7 L770.0,109.4" fill="none" stroke="#000" stroke-width="1.3" stroke-dasharray="1.3,1.1"/>
<path d="M61.9,221.6 L66.5,220.5 L71.1,219.6 L75.7,218.7 L80.3,217.8 L84.9,217.0 L89.5,216.3 L94.1,215.6 L98.7,215.0 L103.3,214.5 L108.0,214.0 L112.6,213.5 L117.2,213.2 L121.8,212.9 L126.4,212.6 L131.0,212.4 L135.6,212.3 L140.2,212.2 L144.8,212.2 L149.4,212.2 L154.0,212.3 L158.6,212.5 L163.2,212.7 L167.8,213.0 L172.4,213.3 L177.0,213.8 L181.6,214.2 L186.2,214.7 L190.8,215.3 L195.4,216.0 L200.1,216.7 L204.7,217.4 L209.3,218.2 L213.9,219.1 L218.5,220.1 L223.1,221.1 L227.7,222.1 L232.3,223.2 L236.9,224.4 L241.5,225.7" fill="none" stroke="#000" stroke-width="1.8" stroke-dasharray="1.6,1.0"/>
<path d="M324.7,233.7 L329.3,232.9 L333.9,232.1 L338.6,231.3 L343.2,230.7 L347.8,230.1 L352.4,229.5 L357.0,229.0 L361.6,228.6 L366.3,228.2 L370.9,227.9 L375.5,227.6 L380.1,227.4 L384.7,227.3 L389.4,227.2 L394.0,227.2 L398.6,227.2 L403.2,227.3 L407.8,227.5 L412.4,227.7 L417.1,228.0 L421.7,228.4 L426.3,228.8 L430.9,229.2 L435.5,229.7 L440.1,230.3 L444.8,231.0 L449.4,231.7 L454.0,232.4 L458.6,233.3 L463.2,234.2 L467.9,235.1 L472.5,236.1 L477.1,237.2 L481.7,238.3 L486.3,239.5 L490.9,240.7 L495.6,242.0 L500.2,243.4 L504.8,244.8" fill="none" stroke="#000" stroke-width="1.8" stroke-dasharray="1.6,1.0"/>
<path d="M587.7,229.9 L592.3,229.1 L597.0,228.4 L601.6,227.7 L606.2,227.1 L610.8,226.6 L615.5,226.1 L620.1,225.6 L624.7,225.3 L629.3,224.9 L634.0,224.7 L638.6,224.4 L643.2,224.3 L647.8,224.2 L652.5,224.1 L657.1,224.2 L661.7,224.2 L666.3,224.3 L671.0,224.5 L675.6,224.8 L680.2,225.1 L684.8,225.4 L689.5,225.8 L694.1,226.3 L698.7,226.8 L703.3,227.4 L708.0,228.0 L712.6,228.7 L717.2,229.4 L721.8,230.2 L726.5,231.1 L731.1,232.0 L735.7,232.9 L740.3,234.0 L745.0,235.0 L749.6,236.2 L754.2,237.4 L758.8,238.6 L763.5,239.9 L768.1,241.3" fill="none" stroke="#000" stroke-width="1.8" stroke-dasharray="1.6,1.0"/></svg>
</body></html>
